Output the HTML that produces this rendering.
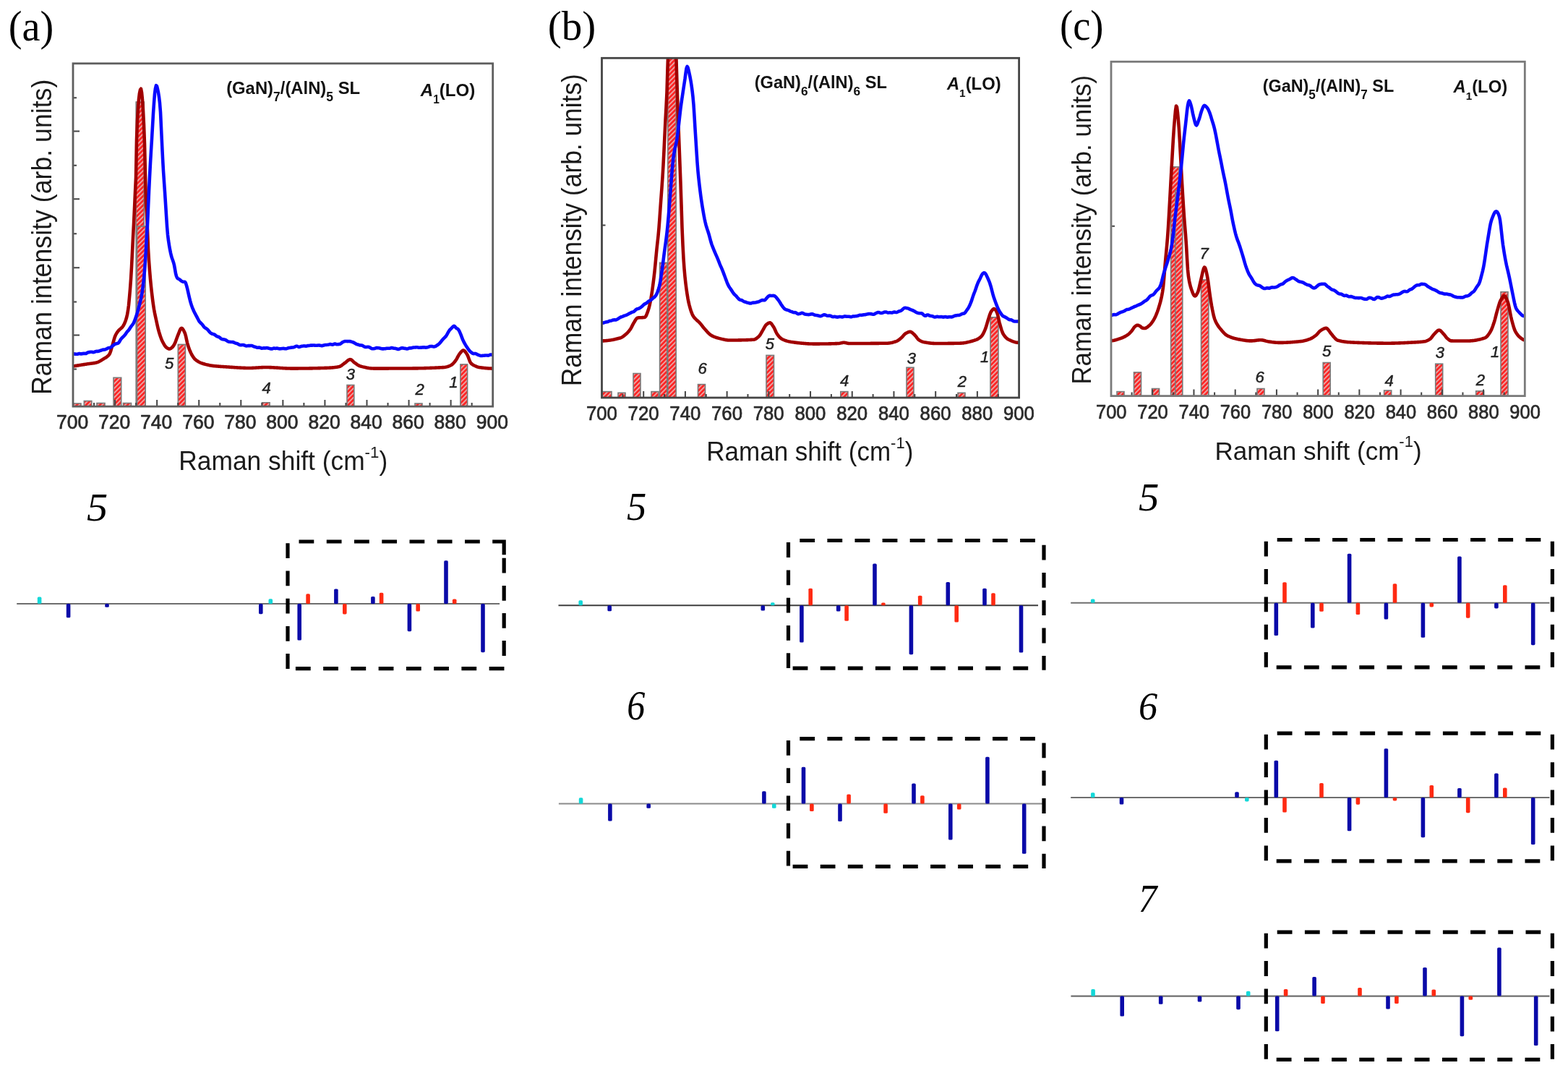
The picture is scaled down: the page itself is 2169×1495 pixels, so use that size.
<!DOCTYPE html>
<html><head><meta charset="utf-8"><title>Raman spectra of GaN/AlN superlattices</title>
<style>html,body{margin:0;padding:0;background:#fff;width:2169px;height:1495px;overflow:hidden}svg{display:block}</style></head><body>
<svg width="2169" height="1495" viewBox="0 0 2169 1495">
<defs>
<pattern id="hatch" patternUnits="userSpaceOnUse" width="4.5" height="4.5" patternTransform="rotate(-45)"><rect width="4.5" height="4.5" fill="#ff2222"/><rect x="0" y="0" width="4.5" height="1.9" fill="#eaa2a2"/></pattern>
<clipPath id="clipa"><rect x="101" y="87.8" width="580.7" height="474.3"/></clipPath>
<clipPath id="clipb"><rect x="832.5" y="80.3" width="577.1" height="469.7"/></clipPath>
<clipPath id="clipc"><rect x="1537" y="85.3" width="572.3" height="462.3"/></clipPath>
</defs>
<rect width="2169" height="1495" fill="#fff"/>
<text transform="matrix(0.94 0 0 0.99 11.67 55.66)" font-family="'Liberation Serif', 'Times New Roman', serif" font-size="60" fill="#000">(a)</text>
<g clip-path="url(#clipa)">
<rect x="101" y="558" width="11" height="6.1" fill="url(#hatch)" stroke="#7a7a7a" stroke-width="1.6"/>
<rect x="116.3" y="554.5" width="10.5" height="9.6" fill="url(#hatch)" stroke="#7a7a7a" stroke-width="1.6"/>
<rect x="134" y="557.5" width="11" height="6.6" fill="url(#hatch)" stroke="#7a7a7a" stroke-width="1.6"/>
<rect x="157" y="522.3" width="10.7" height="41.8" fill="url(#hatch)" stroke="#7a7a7a" stroke-width="1.6"/>
<rect x="170.5" y="557.5" width="11" height="6.6" fill="url(#hatch)" stroke="#7a7a7a" stroke-width="1.6"/>
<rect x="188.2" y="141" width="11.1" height="423.1" fill="url(#hatch)" stroke="#7a7a7a" stroke-width="1.6"/>
<rect x="189.5" y="313" width="11.7" height="251.1" fill="url(#hatch)" stroke="#7a7a7a" stroke-width="1.6"/>
<rect x="246.3" y="476.4" width="10.1" height="87.7" fill="url(#hatch)" stroke="#7a7a7a" stroke-width="1.6"/>
<rect x="362.6" y="556.8" width="10.5" height="7.3" fill="url(#hatch)" stroke="#7a7a7a" stroke-width="1.6"/>
<rect x="480" y="532.5" width="9.8" height="31.6" fill="url(#hatch)" stroke="#7a7a7a" stroke-width="1.6"/>
<rect x="574" y="558" width="10" height="6.1" fill="url(#hatch)" stroke="#7a7a7a" stroke-width="1.6"/>
<rect x="636.9" y="503.9" width="9.7" height="60.2" fill="url(#hatch)" stroke="#7a7a7a" stroke-width="1.6"/>
<path d="M101 506.5 L102 506.34 L103 506.18 L104 506.02 L105 505.86 L106 505.71 L107 505.55 L108 505.39 L109 505.23 L110 505.07 L111 504.91 L112 504.76 L113 504.6 L114 504.44 L115 504.28 L116 504.13 L117 503.97 L118 503.81 L119 503.66 L120 503.5 L121 503.35 L122 503.21 L123 503.08 L124 502.95 L125 502.83 L126 502.7 L127 502.57 L128 502.43 L129 502.28 L130 502.12 L131 501.94 L132 501.74 L133 501.52 L134 501.27 L135 500.93 L136 500.53 L137 500.06 L138 499.54 L139 498.97 L140 498.37 L141 497.76 L142 497.13 L143 496.5 L144 495.9 L145 495.31 L146 494.72 L147 494.08 L148 493.36 L149 492.52 L150 491.55 L151 490.39 L152 488.74 L153 486.01 L154 482.66 L155 479.2 L156 475.89 L157 472.22 L158 468.58 L159 465.48 L160 463.24 L161 461.39 L162 459.81 L163 458.42 L164 457.19 L165 456.17 L166 455.3 L167 454.48 L168 453.61 L169 452.59 L170 451.34 L171 449.76 L172 447.8 L173 445.45 L174 442.68 L175 439.47 L176 435.22 L177 429.69 L178 422.22 L179 411.59 L180 399.86 L181 386.41 L182 369.55 L183 349.48 L184 328.8 L185 309.87 L186 288.69 L187 266.01 L188 245.6 L189 192.86 L190 166.9 L191 150.01 L192 136.96 L193 128.88 L194 124.13 L195 122.79 L196 127.84 L197 137.94 L198 153.63 L199 172.31 L200 199.04 L201 241.59 L202 280 L203 296.58 L204 318.16 L205 343.97 L206 360.7 L207 374.23 L208 386.01 L209 396.24 L210 405.29 L211 413.62 L212 421.21 L213 427.69 L214 433.02 L215 437.74 L216 442.37 L217 447.07 L218 451.59 L219 455.72 L220 459.25 L221 462.5 L222 465.52 L223 468.27 L224 470.71 L225 472.79 L226 474.68 L227 476.44 L228 478.02 L229 479.34 L230 480.36 L231 481.11 L232 481.79 L233 482.31 L234 482.58 L235 482.49 L236 482.02 L237 481.3 L238 480.5 L239 479.5 L240 478.17 L241 476.6 L242 474.59 L243 472.07 L244 469.28 L245 466.47 L246 463.89 L247 461.51 L248 458.86 L249 456.37 L250 454.52 L251 453.8 L252 454.22 L253 455.36 L254 457.03 L255 459.02 L256 461.24 L257 464.86 L258 469.47 L259 474.01 L260 477.53 L261 480.52 L262 483.28 L263 485.8 L264 488.05 L265 490 L266 491.74 L267 493.34 L268 494.78 L269 496.01 L270 497 L271 497.83 L272 498.59 L273 499.29 L274 499.93 L275 500.51 L276 501.04 L277 501.51 L278 501.93 L279 502.3 L280 502.64 L281 502.96 L282 503.27 L283 503.57 L284 503.85 L285 504.12 L286 504.37 L287 504.61 L288 504.84 L289 505.05 L290 505.24 L291 505.42 L292 505.59 L293 505.74 L294 505.88 L295 506 L296 506.11 L297 506.22 L298 506.31 L299 506.41 L300 506.49 L301 506.58 L302 506.65 L303 506.73 L304 506.8 L305 506.86 L306 506.93 L307 506.99 L308 507.05 L309 507.12 L310 507.18 L311 507.24 L312 507.3 L313 507.36 L314 507.43 L315 507.5 L316 507.56 L317 507.63 L318 507.7 L319 507.77 L320 507.84 L321 507.91 L322 507.98 L323 508.05 L324 508.12 L325 508.18 L326 508.25 L327 508.31 L328 508.38 L329 508.44 L330 508.5 L331 508.56 L332 508.61 L333 508.66 L334 508.71 L335 508.76 L336 508.8 L337 508.84 L338 508.88 L339 508.91 L340 508.94 L341 508.96 L342 508.98 L343 508.99 L344 509 L345 509 L346 508.99 L347 508.98 L348 508.95 L349 508.92 L350 508.87 L351 508.82 L352 508.77 L353 508.71 L354 508.65 L355 508.58 L356 508.51 L357 508.45 L358 508.38 L359 508.32 L360 508.26 L361 508.2 L362 508.15 L363 508.1 L364 508.06 L365 508.03 L366 508.01 L367 508 L368 508 L369 508.01 L370 508.02 L371 508.04 L372 508.07 L373 508.1 L374 508.13 L375 508.17 L376 508.22 L377 508.27 L378 508.32 L379 508.37 L380 508.43 L381 508.49 L382 508.55 L383 508.61 L384 508.67 L385 508.74 L386 508.8 L387 508.87 L388 508.93 L389 509 L390 509.06 L391 509.12 L392 509.18 L393 509.23 L394 509.29 L395 509.34 L396 509.39 L397 509.43 L398 509.47 L399 509.5 L400 509.54 L401 509.56 L402 509.58 L403 509.59 L404 509.6 L405 509.6 L406 509.6 L407 509.6 L408 509.6 L409 509.59 L410 509.59 L411 509.59 L412 509.58 L413 509.57 L414 509.57 L415 509.56 L416 509.55 L417 509.55 L418 509.54 L419 509.53 L420 509.52 L421 509.51 L422 509.49 L423 509.48 L424 509.47 L425 509.45 L426 509.44 L427 509.43 L428 509.41 L429 509.39 L430 509.38 L431 509.36 L432 509.34 L433 509.32 L434 509.3 L435 509.28 L436 509.26 L437 509.24 L438 509.21 L439 509.19 L440 509.17 L441 509.14 L442 509.12 L443 509.09 L444 509.07 L445 509.04 L446 509.01 L447 508.98 L448 508.95 L449 508.92 L450 508.89 L451 508.86 L452 508.83 L453 508.8 L454 508.76 L455 508.72 L456 508.67 L457 508.61 L458 508.54 L459 508.47 L460 508.38 L461 508.29 L462 508.18 L463 508.07 L464 507.94 L465 507.8 L466 507.65 L467 507.49 L468 507.31 L469 507.12 L470 506.84 L471 506.37 L472 505.75 L473 505.04 L474 504.26 L475 503.47 L476 502.7 L477 502 L478 501.27 L479 500.42 L480 499.54 L481 498.7 L482 497.97 L483 497.42 L484 497.13 L485 497.18 L486 497.63 L487 498.37 L488 499.29 L489 500.27 L490 501.22 L491 502 L492 502.69 L493 503.4 L494 504.11 L495 504.78 L496 505.38 L497 505.89 L498 506.27 L499 506.56 L500 506.84 L501 507.11 L502 507.37 L503 507.62 L504 507.86 L505 508.09 L506 508.3 L507 508.5 L508 508.69 L509 508.86 L510 509.02 L511 509.16 L512 509.28 L513 509.38 L514 509.47 L515 509.53 L516 509.57 L517 509.6 L518 509.6 L519 509.6 L520 509.6 L521 509.6 L522 509.6 L523 509.6 L524 509.6 L525 509.6 L526 509.6 L527 509.59 L528 509.59 L529 509.59 L530 509.59 L531 509.59 L532 509.59 L533 509.58 L534 509.58 L535 509.58 L536 509.58 L537 509.58 L538 509.57 L539 509.57 L540 509.57 L541 509.57 L542 509.56 L543 509.56 L544 509.56 L545 509.55 L546 509.55 L547 509.55 L548 509.55 L549 509.54 L550 509.54 L551 509.53 L552 509.53 L553 509.53 L554 509.52 L555 509.52 L556 509.52 L557 509.51 L558 509.51 L559 509.5 L560 509.5 L561 509.5 L562 509.49 L563 509.49 L564 509.48 L565 509.47 L566 509.47 L567 509.46 L568 509.45 L569 509.44 L570 509.43 L571 509.42 L572 509.41 L573 509.4 L574 509.39 L575 509.38 L576 509.36 L577 509.35 L578 509.33 L579 509.32 L580 509.3 L581 509.28 L582 509.26 L583 509.24 L584 509.22 L585 509.2 L586 509.18 L587 509.15 L588 509.13 L589 509.1 L590 509.07 L591 509.05 L592 509.02 L593 508.99 L594 508.95 L595 508.92 L596 508.89 L597 508.85 L598 508.81 L599 508.77 L600 508.73 L601 508.69 L602 508.65 L603 508.61 L604 508.56 L605 508.51 L606 508.46 L607 508.41 L608 508.36 L609 508.31 L610 508.25 L611 508.2 L612 508.14 L613 508.08 L614 508.02 L615 507.94 L616 507.8 L617 507.61 L618 507.36 L619 507.07 L620 506.73 L621 506.35 L622 505.93 L623 505.48 L624 505 L625 504.39 L626 503.56 L627 502.57 L628 501.45 L629 500.24 L630 499 L631 497.55 L632 495.81 L633 493.93 L634 492.07 L635 490.37 L636 489 L637 487.79 L638 486.58 L639 485.53 L640 484.78 L641 484.5 L642 484.84 L643 485.73 L644 487 L645 488.48 L646 490 L647 491.93 L648 494.5 L649 497.28 L650 499.86 L651 501.8 L652 502.88 L653 503.72 L654 504.42 L655 505.01 L656 505.53 L657 506 L658 506.45 L659 506.88 L660 507.27 L661 507.61 L662 507.87 L663 508.05 L664 508.19 L665 508.34 L666 508.47 L667 508.6 L668 508.72 L669 508.84 L670 508.95 L671 509.05 L672 509.14 L673 509.23 L674 509.31 L675 509.38 L676 509.44 L677 509.49 L678 509.53 L679 509.56 L680 509.59 L681 509.6 L681.7 509.6" fill="none" stroke="#a00000" stroke-width="4.6" stroke-linejoin="round" stroke-linecap="round"/>
<path d="M101 489.54 L102 489.4 L103 489.46 L104 489.61 L105 489.77 L106 489.82 L107 489.71 L108 489.44 L109 489.15 L110 489.06 L111 489.23 L112 489.38 L113 489.33 L114 489.13 L115 488.93 L116 488.86 L117 488.92 L118 489.02 L119 488.88 L120 488.37 L121 487.72 L122 487.31 L123 487.14 L124 486.99 L125 486.79 L126 486.69 L127 486.75 L128 486.96 L129 487.13 L130 487.04 L131 486.65 L132 486.21 L133 485.91 L134 485.79 L135 485.84 L136 485.85 L137 485.57 L138 485.14 L139 484.78 L140 484.49 L141 484.1 L142 483.76 L143 483.63 L144 483.6 L145 483.45 L146 483.15 L147 482.71 L148 482.16 L149 481.6 L150 481.21 L151 481.02 L152 480.92 L153 480.64 L154 479.95 L155 479 L156 478.07 L157 477.33 L158 476.66 L159 476.04 L160 475.53 L161 475.21 L162 475 L163 474.76 L164 474.19 L165 472.86 L166 471.06 L167 469.34 L168 468.05 L169 467.04 L170 466.1 L171 465.13 L172 464.09 L173 462.97 L174 461.57 L175 460.02 L176 458.68 L177 457.67 L178 456.61 L179 455.2 L180 453.57 L181 452.02 L182 450.65 L183 449.42 L184 448.06 L185 446.31 L186 444.04 L187 441.34 L188 438.51 L189 435.52 L190 432.31 L191 428.74 L192 424.97 L193 421.21 L194 417.3 L195 412.9 L196 407.78 L197 401.65 L198 394.16 L199 385.26 L200 374.52 L201 360.68 L202 344.22 L203 326.61 L204 311.22 L205 287.93 L206 265.28 L207 244.7 L208 225.73 L209 208.7 L210 192.31 L211 174.83 L212 157.18 L213 142.39 L214 129.52 L215 122.18 L216 118.13 L217 119.1 L218 123.11 L219 127.81 L220 134.13 L221 142.59 L222 155.06 L223 176.49 L224 197.74 L225 218.39 L226 236.37 L227 251.38 L228 265.76 L229 281.27 L230 297.27 L231 312.97 L232 324.69 L233 332.71 L234 339.1 L235 344.8 L236 349.82 L237 354.04 L238 357.3 L239 360.01 L240 362.96 L241 366.74 L242 372.27 L243 378.21 L244 381.88 L245 384.17 L246 385.34 L247 385.61 L248 386.21 L249 387.04 L250 387.87 L251 388.58 L252 389.24 L253 389.68 L254 389.78 L255 389.71 L256 389.94 L257 391.74 L258 394.86 L259 398.57 L260 403.07 L261 407.5 L262 411.68 L263 415.79 L264 419.41 L265 422.55 L266 425.26 L267 427.71 L268 430.02 L269 432.11 L270 433.95 L271 435.77 L272 437.67 L273 439.59 L274 441.52 L275 443.39 L276 444.94 L277 446.07 L278 446.97 L279 447.91 L280 449.07 L281 450.46 L282 451.83 L283 452.88 L284 453.57 L285 454.16 L286 454.84 L287 455.68 L288 456.74 L289 457.98 L290 459.2 L291 460.25 L292 461.01 L293 461.53 L294 461.88 L295 462.11 L296 462.38 L297 462.9 L298 463.68 L299 464.52 L300 465.15 L301 465.5 L302 465.74 L303 466.13 L304 466.82 L305 467.71 L306 468.53 L307 469.05 L308 469.26 L309 469.34 L310 469.44 L311 469.65 L312 470.06 L313 470.7 L314 471.42 L315 472.04 L316 472.45 L317 472.66 L318 472.79 L319 472.93 L320 473.03 L321 473.05 L322 473.09 L323 473.34 L324 473.81 L325 474.32 L326 474.66 L327 474.86 L328 475.13 L329 475.63 L330 476.25 L331 476.78 L332 477.14 L333 477.24 L334 477.12 L335 476.95 L336 476.95 L337 477.13 L338 477.47 L339 477.91 L340 478.3 L341 478.43 L342 478.32 L343 478.16 L344 478.07 L345 478.08 L346 478.11 L347 478.06 L348 478 L349 478.19 L350 478.71 L351 479.25 L352 479.55 L353 479.76 L354 480.08 L355 480.47 L356 480.72 L357 480.73 L358 480.58 L359 480.57 L360 480.89 L361 481.39 L362 481.68 L363 481.61 L364 481.41 L365 481.33 L366 481.39 L367 481.38 L368 481.21 L369 481.07 L370 481.17 L371 481.46 L372 481.73 L373 481.92 L374 482.16 L375 482.42 L376 482.48 L377 482.18 L378 481.77 L379 481.62 L380 481.75 L381 481.85 L382 481.73 L383 481.61 L384 481.74 L385 482.07 L386 482.32 L387 482.36 L388 482.28 L389 482.18 L390 482.06 L391 481.94 L392 481.89 L393 481.99 L394 482.19 L395 482.33 L396 482.22 L397 481.91 L398 481.56 L399 481.27 L400 481.06 L401 480.92 L402 480.79 L403 480.65 L404 480.56 L405 480.48 L406 480.3 L407 479.98 L408 479.55 L409 479.04 L410 478.68 L411 478.76 L412 479.24 L413 479.73 L414 479.87 L415 479.59 L416 479.16 L417 478.86 L418 478.72 L419 478.59 L420 478.43 L421 478.41 L422 478.59 L423 478.77 L424 478.66 L425 478.35 L426 478.1 L427 478 L428 477.92 L429 477.78 L430 477.64 L431 477.62 L432 477.65 L433 477.58 L434 477.52 L435 477.59 L436 477.72 L437 477.81 L438 477.82 L439 477.69 L440 477.49 L441 477.44 L442 477.61 L443 477.82 L444 478 L445 478.13 L446 478.08 L447 477.8 L448 477.44 L449 477.17 L450 477.05 L451 477.01 L452 476.94 L453 476.82 L454 476.65 L455 476.41 L456 476.13 L457 476.04 L458 476.21 L459 476.53 L460 476.66 L461 476.39 L462 475.88 L463 475.54 L464 475.64 L465 476.01 L466 476.29 L467 476.28 L468 476.09 L469 475.98 L470 475.9 L471 475.53 L472 474.78 L473 473.91 L474 473.19 L475 472.69 L476 472.36 L477 472.09 L478 471.94 L479 471.96 L480 472.07 L481 472.09 L482 472.06 L483 472.02 L484 472.08 L485 472.3 L486 472.59 L487 472.88 L488 473.2 L489 473.61 L490 474.14 L491 474.77 L492 475.39 L493 475.88 L494 476.24 L495 476.5 L496 476.81 L497 477.17 L498 477.42 L499 477.46 L500 477.51 L501 477.77 L502 478.27 L503 478.9 L504 479.47 L505 479.88 L506 480.03 L507 479.91 L508 479.72 L509 479.69 L510 479.86 L511 480.19 L512 480.74 L513 481.43 L514 481.96 L515 482.18 L516 482.2 L517 482.19 L518 482.07 L519 481.75 L520 481.33 L521 481.08 L522 481.1 L523 481.21 L524 481.31 L525 481.45 L526 481.71 L527 482.02 L528 482.24 L529 482.35 L530 482.37 L531 482.33 L532 482.26 L533 482.14 L534 481.97 L535 481.8 L536 481.73 L537 481.77 L538 481.82 L539 481.73 L540 481.45 L541 481.14 L542 481 L543 481.22 L544 481.55 L545 481.7 L546 481.75 L547 481.89 L548 482.13 L549 482.48 L550 482.87 L551 483.01 L552 482.74 L553 482.28 L554 481.87 L555 481.48 L556 481.23 L557 481.29 L558 481.6 L559 481.82 L560 481.85 L561 481.96 L562 482.27 L563 482.48 L564 482.3 L565 481.85 L566 481.52 L567 481.39 L568 481.38 L569 481.34 L570 481.11 L571 480.74 L572 480.52 L573 480.5 L574 480.52 L575 480.4 L576 480.3 L577 480.31 L578 480.47 L579 480.65 L580 480.75 L581 480.72 L582 480.66 L583 480.59 L584 480.49 L585 480.36 L586 480.32 L587 480.39 L588 480.54 L589 480.61 L590 480.54 L591 480.37 L592 480.1 L593 479.73 L594 479.33 L595 479.06 L596 478.93 L597 478.91 L598 479.03 L599 479.25 L600 479.43 L601 479.41 L602 479.11 L603 478.61 L604 477.96 L605 477.25 L606 476.53 L607 475.82 L608 474.91 L609 473.81 L610 472.55 L611 471.23 L612 470.01 L613 468.96 L614 467.97 L615 466.98 L616 465.92 L617 464.72 L618 463.23 L619 461.39 L620 459.51 L621 457.84 L622 456.46 L623 455.42 L624 454.5 L625 453.46 L626 452.32 L627 451.31 L628 450.88 L629 451.36 L630 452.5 L631 453.63 L632 454.3 L633 454.82 L634 455.73 L635 457.26 L636 459.33 L637 461.61 L638 464.16 L639 466.87 L640 469.44 L641 471.67 L642 473.57 L643 475.39 L644 477.1 L645 478.71 L646 480.24 L647 481.71 L648 483.18 L649 484.55 L650 485.75 L651 486.65 L652 487.36 L653 488.15 L654 488.85 L655 489.16 L656 489.07 L657 488.91 L658 489.05 L659 489.52 L660 490.12 L661 490.61 L662 490.96 L663 491.33 L664 491.71 L665 491.94 L666 492 L667 491.9 L668 491.76 L669 491.67 L670 491.6 L671 491.49 L672 491.43 L673 491.48 L674 491.57 L675 491.61 L676 491.46 L677 491.05 L678 490.61 L679 490.45 L680 490.57 L681 490.81 L681.7 491.05" fill="none" stroke="#0a0aff" stroke-width="4.6" stroke-linejoin="round" stroke-linecap="round"/>
</g>
<path d="M130.03 562.1 V557.1 M159.07 562.1 V553.1 M188.11 562.1 V557.1 M217.14 562.1 V553.1 M246.18 562.1 V557.1 M275.21 562.1 V553.1 M304.25 562.1 V557.1 M333.28 562.1 V553.1 M362.31 562.1 V557.1 M391.35 562.1 V553.1 M420.39 562.1 V557.1 M449.42 562.1 V553.1 M478.46 562.1 V557.1 M507.49 562.1 V553.1 M536.53 562.1 V557.1 M565.56 562.1 V553.1 M594.6 562.1 V557.1 M623.63 562.1 V553.1 M652.67 562.1 V557.1 M101 181.5 H110 M101 275.3 H110 M101 370.2 H110 M101 463.5 H110 M101 135.2 H106 M101 228.8 H106 M101 323.3 H106 M101 417.5 H106 M101 510.6 H106" stroke="#444" stroke-width="2" fill="none"/>
<rect x="101" y="87.8" width="580.7" height="474.3" fill="none" stroke="#5e5e5e" stroke-width="2.8"/>
<text font-family="'Liberation Sans', Arial, Helvetica, sans-serif" font-size="26" stroke="#2b2b2b" stroke-width="0.7" stroke-linejoin="round" fill="#2b2b2b" transform="matrix(1.02 0 0 1.03 77.98 593.4)">700</text>
<text font-family="'Liberation Sans', Arial, Helvetica, sans-serif" font-size="26" stroke="#2b2b2b" stroke-width="0.7" stroke-linejoin="round" fill="#2b2b2b" transform="matrix(1.02 0 0 1.03 136.05 593.4)">720</text>
<text font-family="'Liberation Sans', Arial, Helvetica, sans-serif" font-size="26" stroke="#2b2b2b" stroke-width="0.7" stroke-linejoin="round" fill="#2b2b2b" transform="matrix(1.02 0 0 1.03 194.12 593.4)">740</text>
<text font-family="'Liberation Sans', Arial, Helvetica, sans-serif" font-size="26" stroke="#2b2b2b" stroke-width="0.7" stroke-linejoin="round" fill="#2b2b2b" transform="matrix(1.02 0 0 1.03 252.19 593.4)">760</text>
<text font-family="'Liberation Sans', Arial, Helvetica, sans-serif" font-size="26" stroke="#2b2b2b" stroke-width="0.7" stroke-linejoin="round" fill="#2b2b2b" transform="matrix(1.02 0 0 1.03 310.26 593.4)">780</text>
<text font-family="'Liberation Sans', Arial, Helvetica, sans-serif" font-size="26" stroke="#2b2b2b" stroke-width="0.7" stroke-linejoin="round" fill="#2b2b2b" transform="matrix(1.02 0 0 1.03 368.33 593.4)">800</text>
<text font-family="'Liberation Sans', Arial, Helvetica, sans-serif" font-size="26" stroke="#2b2b2b" stroke-width="0.7" stroke-linejoin="round" fill="#2b2b2b" transform="matrix(1.02 0 0 1.03 426.4 593.4)">820</text>
<text font-family="'Liberation Sans', Arial, Helvetica, sans-serif" font-size="26" stroke="#2b2b2b" stroke-width="0.7" stroke-linejoin="round" fill="#2b2b2b" transform="matrix(1.02 0 0 1.03 484.47 593.4)">840</text>
<text font-family="'Liberation Sans', Arial, Helvetica, sans-serif" font-size="26" stroke="#2b2b2b" stroke-width="0.7" stroke-linejoin="round" fill="#2b2b2b" transform="matrix(1.02 0 0 1.03 542.54 593.4)">860</text>
<text font-family="'Liberation Sans', Arial, Helvetica, sans-serif" font-size="26" stroke="#2b2b2b" stroke-width="0.7" stroke-linejoin="round" fill="#2b2b2b" transform="matrix(1.02 0 0 1.03 600.61 593.4)">880</text>
<text font-family="'Liberation Sans', Arial, Helvetica, sans-serif" font-size="26" stroke="#2b2b2b" stroke-width="0.7" stroke-linejoin="round" fill="#2b2b2b" transform="matrix(1.02 0 0 1.03 658.68 593.4)">900</text>
<text transform="matrix(1.04 0 0 1.06 247.29 650.1)" font-family="'Liberation Sans', Arial, Helvetica, sans-serif" font-size="34" fill="#1a1a1a">Raman shift (cm<tspan font-size="21.4" dy="-16.6">-1</tspan><tspan dy="16.6">)</tspan></text>
<text transform="matrix(0 -1.02 1.09 0 71.3 546.06)" font-family="'Liberation Sans', Arial, Helvetica, sans-serif" font-size="35" fill="#1a1a1a">Raman intensity (arb. units)</text>
<text transform="matrix(1.06 0 0 1.08 313.14 130)" font-family="'Liberation Sans', Arial, Helvetica, sans-serif" font-size="22.5" font-weight="bold" fill="#111">(GaN)<tspan font-size="16.5" dy="9.6">7</tspan><tspan dy="-9.6">/(AlN)</tspan><tspan font-size="16.5" dy="9.6">5</tspan><tspan dy="-9.6"> SL</tspan></text>
<text transform="matrix(1.07 0 0 1.09 581.8 132.5)" font-family="'Liberation Sans', Arial, Helvetica, sans-serif" font-size="22.5" font-weight="bold" fill="#111"><tspan font-style="italic">A</tspan><tspan font-size="14.5" dy="9.2">1</tspan><tspan dy="-9.2">(LO)</tspan></text>
<text transform="matrix(0.95 0 0 0.95 757.86 55.1)" font-family="'Liberation Serif', 'Times New Roman', serif" font-size="60" fill="#000">(b)</text>
<g clip-path="url(#clipb)">
<rect x="833" y="541.6" width="13" height="10.4" fill="url(#hatch)" stroke="#7a7a7a" stroke-width="1.6"/>
<rect x="855" y="543.3" width="10" height="8.7" fill="url(#hatch)" stroke="#7a7a7a" stroke-width="1.6"/>
<rect x="876" y="516.5" width="10" height="35.5" fill="url(#hatch)" stroke="#7a7a7a" stroke-width="1.6"/>
<rect x="901" y="541.6" width="10" height="10.4" fill="url(#hatch)" stroke="#7a7a7a" stroke-width="1.6"/>
<rect x="912.6" y="363.3" width="10.2" height="188.7" fill="url(#hatch)" stroke="#7a7a7a" stroke-width="1.6"/>
<rect x="923.8" y="70" width="11.4" height="482" fill="url(#hatch)" stroke="#7a7a7a" stroke-width="1.6"/>
<rect x="965.5" y="531.6" width="10" height="20.4" fill="url(#hatch)" stroke="#7a7a7a" stroke-width="1.6"/>
<rect x="1060" y="491.4" width="10.5" height="60.6" fill="url(#hatch)" stroke="#7a7a7a" stroke-width="1.6"/>
<rect x="1162.8" y="541.6" width="10.1" height="10.4" fill="url(#hatch)" stroke="#7a7a7a" stroke-width="1.6"/>
<rect x="1254" y="508.2" width="10" height="43.8" fill="url(#hatch)" stroke="#7a7a7a" stroke-width="1.6"/>
<rect x="1325" y="543.3" width="10" height="8.7" fill="url(#hatch)" stroke="#7a7a7a" stroke-width="1.6"/>
<rect x="1370" y="438.8" width="11" height="113.2" fill="url(#hatch)" stroke="#7a7a7a" stroke-width="1.6"/>
<path d="M832.5 471.4 L833.5 471.39 L834.5 471.37 L835.5 471.33 L836.5 471.28 L837.5 471.22 L838.5 471.14 L839.5 471.05 L840.5 470.95 L841.5 470.83 L842.5 470.71 L843.5 470.56 L844.5 470.41 L845.5 470.25 L846.5 470.07 L847.5 469.89 L848.5 469.69 L849.5 469.48 L850.5 469.26 L851.5 469.03 L852.5 468.79 L853.5 468.55 L854.5 468.29 L855.5 468.02 L856.5 467.75 L857.5 467.46 L858.5 467.17 L859.5 466.78 L860.5 466.26 L861.5 465.63 L862.5 464.91 L863.5 464.12 L864.5 463.29 L865.5 462.43 L866.5 461.56 L867.5 460.61 L868.5 459.58 L869.5 458.45 L870.5 457.23 L871.5 455.91 L872.5 454.42 L873.5 452.61 L874.5 450.63 L875.5 448.64 L876.5 446.81 L877.5 445.21 L878.5 443.52 L879.5 441.89 L880.5 440.55 L881.5 439.73 L882.5 439.51 L883.5 439.39 L884.5 439.31 L885.5 439.26 L886.5 439.22 L887.5 439.18 L888.5 439.14 L889.5 439.08 L890.5 438.99 L891.5 438.86 L892.5 438.49 L893.5 437.15 L894.5 435.03 L895.5 432.38 L896.5 429.47 L897.5 426.41 L898.5 422.5 L899.5 417.83 L900.5 412.61 L901.5 406.62 L902.5 399.79 L903.5 392.26 L904.5 384.19 L905.5 375.52 L906.5 365.45 L907.5 354.74 L908.5 344.38 L909.5 335.2 L910.5 326.18 L911.5 315.29 L912.5 301.78 L913.5 287.17 L914.5 273.12 L915.5 259.6 L916.5 245.2 L917.5 228.34 L918.5 208.34 L919.5 186.99 L920.5 166.37 L921.5 148.24 L922.5 127.78 L923.5 94.08 L924.5 65.58 L925.5 46.11 L926.5 35.5 L927.5 27.61 L928.5 22.08 L929.5 20 L930.5 22.17 L931.5 27.82 L932.5 35.66 L933.5 45.41 L934.5 61.47 L935.5 82.82 L936.5 116.37 L937.5 148.48 L938.5 175.2 L939.5 201.14 L940.5 227.46 L941.5 253.94 L942.5 283.06 L943.5 314.8 L944.5 338.29 L945.5 357.37 L946.5 371.58 L947.5 382.84 L948.5 391.98 L949.5 399.72 L950.5 406.66 L951.5 412.74 L952.5 417.84 L953.5 421.98 L954.5 425.68 L955.5 429.01 L956.5 431.94 L957.5 434.44 L958.5 436.48 L959.5 438.08 L960.5 439.38 L961.5 440.49 L962.5 441.5 L963.5 442.48 L964.5 443.35 L965.5 444.16 L966.5 445.02 L967.5 446.02 L968.5 447.15 L969.5 448.38 L970.5 449.67 L971.5 450.96 L972.5 452.23 L973.5 453.44 L974.5 454.55 L975.5 455.68 L976.5 456.83 L977.5 457.97 L978.5 459.09 L979.5 460.16 L980.5 461.16 L981.5 462.07 L982.5 462.88 L983.5 463.57 L984.5 464.12 L985.5 464.64 L986.5 465.11 L987.5 465.55 L988.5 465.96 L989.5 466.34 L990.5 466.7 L991.5 467.02 L992.5 467.33 L993.5 467.61 L994.5 467.87 L995.5 468.12 L996.5 468.37 L997.5 468.63 L998.5 468.88 L999.5 469.12 L1000.5 469.35 L1001.5 469.58 L1002.5 469.78 L1003.5 469.97 L1004.5 470.13 L1005.5 470.27 L1006.5 470.38 L1007.5 470.46 L1008.5 470.49 L1009.5 470.5 L1010.5 470.5 L1011.5 470.5 L1012.5 470.49 L1013.5 470.49 L1014.5 470.49 L1015.5 470.48 L1016.5 470.47 L1017.5 470.46 L1018.5 470.45 L1019.5 470.44 L1020.5 470.43 L1021.5 470.42 L1022.5 470.4 L1023.5 470.38 L1024.5 470.36 L1025.5 470.34 L1026.5 470.32 L1027.5 470.3 L1028.5 470.27 L1029.5 470.24 L1030.5 470.21 L1031.5 470.18 L1032.5 470.15 L1033.5 470.11 L1034.5 470.08 L1035.5 470.04 L1036.5 469.99 L1037.5 469.95 L1038.5 469.9 L1039.5 469.86 L1040.5 469.8 L1041.5 469.75 L1042.5 469.69 L1043.5 469.51 L1044.5 469.15 L1045.5 468.62 L1046.5 467.96 L1047.5 467.2 L1048.5 466.35 L1049.5 465.46 L1050.5 464.48 L1051.5 463.1 L1052.5 461.42 L1053.5 459.61 L1054.5 457.83 L1055.5 456.16 L1056.5 454.35 L1057.5 452.5 L1058.5 450.82 L1059.5 449.48 L1060.5 448.6 L1061.5 447.82 L1062.5 447.15 L1063.5 446.63 L1064.5 446.34 L1065.5 446.39 L1066.5 447.07 L1067.5 448.24 L1068.5 449.7 L1069.5 451.25 L1070.5 452.81 L1071.5 454.79 L1072.5 457.04 L1073.5 459.28 L1074.5 461.23 L1075.5 462.68 L1076.5 464 L1077.5 465.23 L1078.5 466.34 L1079.5 467.33 L1080.5 468.15 L1081.5 468.79 L1082.5 469.29 L1083.5 469.75 L1084.5 470.18 L1085.5 470.58 L1086.5 470.95 L1087.5 471.29 L1088.5 471.6 L1089.5 471.88 L1090.5 472.14 L1091.5 472.37 L1092.5 472.58 L1093.5 472.77 L1094.5 472.93 L1095.5 473.07 L1096.5 473.21 L1097.5 473.34 L1098.5 473.47 L1099.5 473.6 L1100.5 473.73 L1101.5 473.86 L1102.5 473.98 L1103.5 474.09 L1104.5 474.21 L1105.5 474.32 L1106.5 474.43 L1107.5 474.53 L1108.5 474.63 L1109.5 474.72 L1110.5 474.82 L1111.5 474.9 L1112.5 474.98 L1113.5 475.06 L1114.5 475.14 L1115.5 475.2 L1116.5 475.27 L1117.5 475.33 L1118.5 475.38 L1119.5 475.43 L1120.5 475.47 L1121.5 475.51 L1122.5 475.54 L1123.5 475.56 L1124.5 475.58 L1125.5 475.59 L1126.5 475.6 L1127.5 475.6 L1128.5 475.6 L1129.5 475.6 L1130.5 475.59 L1131.5 475.59 L1132.5 475.59 L1133.5 475.58 L1134.5 475.57 L1135.5 475.57 L1136.5 475.56 L1137.5 475.55 L1138.5 475.54 L1139.5 475.52 L1140.5 475.51 L1141.5 475.5 L1142.5 475.48 L1143.5 475.46 L1144.5 475.45 L1145.5 475.43 L1146.5 475.41 L1147.5 475.39 L1148.5 475.36 L1149.5 475.34 L1150.5 475.31 L1151.5 475.29 L1152.5 475.26 L1153.5 475.23 L1154.5 475.2 L1155.5 475.16 L1156.5 475.13 L1157.5 475.09 L1158.5 475.06 L1159.5 475.02 L1160.5 474.97 L1161.5 474.82 L1162.5 474.61 L1163.5 474.37 L1164.5 474.13 L1165.5 473.93 L1166.5 473.82 L1167.5 473.81 L1168.5 473.91 L1169.5 474.08 L1170.5 474.29 L1171.5 474.51 L1172.5 474.72 L1173.5 474.89 L1174.5 474.99 L1175.5 475 L1176.5 475 L1177.5 475 L1178.5 475 L1179.5 475 L1180.5 475 L1181.5 475 L1182.5 475 L1183.5 474.99 L1184.5 474.99 L1185.5 474.99 L1186.5 474.99 L1187.5 474.99 L1188.5 474.99 L1189.5 474.98 L1190.5 474.98 L1191.5 474.98 L1192.5 474.98 L1193.5 474.97 L1194.5 474.97 L1195.5 474.96 L1196.5 474.96 L1197.5 474.96 L1198.5 474.95 L1199.5 474.95 L1200.5 474.94 L1201.5 474.94 L1202.5 474.93 L1203.5 474.93 L1204.5 474.92 L1205.5 474.91 L1206.5 474.91 L1207.5 474.9 L1208.5 474.89 L1209.5 474.89 L1210.5 474.88 L1211.5 474.87 L1212.5 474.86 L1213.5 474.85 L1214.5 474.84 L1215.5 474.83 L1216.5 474.82 L1217.5 474.81 L1218.5 474.8 L1219.5 474.79 L1220.5 474.78 L1221.5 474.77 L1222.5 474.76 L1223.5 474.75 L1224.5 474.73 L1225.5 474.72 L1226.5 474.71 L1227.5 474.69 L1228.5 474.64 L1229.5 474.55 L1230.5 474.43 L1231.5 474.27 L1232.5 474.09 L1233.5 473.88 L1234.5 473.65 L1235.5 473.39 L1236.5 473.11 L1237.5 472.81 L1238.5 472.5 L1239.5 472.17 L1240.5 471.81 L1241.5 471.31 L1242.5 470.67 L1243.5 469.93 L1244.5 469.13 L1245.5 468.28 L1246.5 467.42 L1247.5 466.55 L1248.5 465.51 L1249.5 464.36 L1250.5 463.2 L1251.5 462.15 L1252.5 461.31 L1253.5 460.73 L1254.5 460.2 L1255.5 459.72 L1256.5 459.3 L1257.5 458.99 L1258.5 458.82 L1259.5 458.85 L1260.5 459.21 L1261.5 459.85 L1262.5 460.68 L1263.5 461.61 L1264.5 462.55 L1265.5 463.48 L1266.5 464.64 L1267.5 465.97 L1268.5 467.33 L1269.5 468.59 L1270.5 469.61 L1271.5 470.33 L1272.5 470.95 L1273.5 471.52 L1274.5 472.02 L1275.5 472.44 L1276.5 472.78 L1277.5 473.02 L1278.5 473.22 L1279.5 473.41 L1280.5 473.59 L1281.5 473.76 L1282.5 473.93 L1283.5 474.08 L1284.5 474.22 L1285.5 474.36 L1286.5 474.48 L1287.5 474.59 L1288.5 474.69 L1289.5 474.77 L1290.5 474.85 L1291.5 474.91 L1292.5 474.95 L1293.5 474.98 L1294.5 475 L1295.5 475 L1296.5 475 L1297.5 475 L1298.5 475 L1299.5 474.99 L1300.5 474.99 L1301.5 474.99 L1302.5 474.98 L1303.5 474.98 L1304.5 474.98 L1305.5 474.97 L1306.5 474.96 L1307.5 474.96 L1308.5 474.95 L1309.5 474.94 L1310.5 474.93 L1311.5 474.92 L1312.5 474.91 L1313.5 474.9 L1314.5 474.89 L1315.5 474.88 L1316.5 474.87 L1317.5 474.86 L1318.5 474.85 L1319.5 474.83 L1320.5 474.82 L1321.5 474.8 L1322.5 474.79 L1323.5 474.77 L1324.5 474.76 L1325.5 474.74 L1326.5 474.72 L1327.5 474.7 L1328.5 474.67 L1329.5 474.63 L1330.5 474.56 L1331.5 474.47 L1332.5 474.36 L1333.5 474.23 L1334.5 474.08 L1335.5 473.92 L1336.5 473.74 L1337.5 473.54 L1338.5 473.33 L1339.5 473.11 L1340.5 472.87 L1341.5 472.61 L1342.5 472.34 L1343.5 472.07 L1344.5 471.78 L1345.5 471.47 L1346.5 471.16 L1347.5 470.84 L1348.5 470.51 L1349.5 470.17 L1350.5 469.82 L1351.5 469.4 L1352.5 468.91 L1353.5 468.34 L1354.5 467.69 L1355.5 466.95 L1356.5 466.12 L1357.5 465.2 L1358.5 464.06 L1359.5 462.52 L1360.5 460.64 L1361.5 458.51 L1362.5 456.2 L1363.5 453.68 L1364.5 450.52 L1365.5 447.01 L1366.5 443.57 L1367.5 440.46 L1368.5 437.27 L1369.5 434.27 L1370.5 431.85 L1371.5 430.29 L1372.5 428.95 L1373.5 427.85 L1374.5 427.16 L1375.5 427.05 L1376.5 427.78 L1377.5 429.19 L1378.5 431.02 L1379.5 433.26 L1380.5 437.03 L1381.5 441.64 L1382.5 446.12 L1383.5 449.71 L1384.5 453.14 L1385.5 456.39 L1386.5 459.25 L1387.5 461.48 L1388.5 463.07 L1389.5 464.48 L1390.5 465.73 L1391.5 466.83 L1392.5 467.78 L1393.5 468.58 L1394.5 469.23 L1395.5 469.75 L1396.5 470.23 L1397.5 470.7 L1398.5 471.15 L1399.5 471.57 L1400.5 471.97 L1401.5 472.34 L1402.5 472.67 L1403.5 472.98 L1404.5 473.24 L1405.5 473.47 L1406.5 473.65 L1407.5 473.78 L1408.5 473.87 L1409.5 473.9 L1409.6 473.9" fill="none" stroke="#a00000" stroke-width="4.6" stroke-linejoin="round" stroke-linecap="round"/>
<path d="M832.5 446.9 L833.5 446.74 L834.5 446.46 L835.5 446.17 L836.5 445.88 L837.5 445.6 L838.5 445.4 L839.5 445.27 L840.5 445.02 L841.5 444.59 L842.5 444.13 L843.5 443.82 L844.5 443.64 L845.5 443.44 L846.5 443.12 L847.5 442.76 L848.5 442.48 L849.5 442.37 L850.5 442.41 L851.5 442.43 L852.5 442.18 L853.5 441.7 L854.5 441.13 L855.5 440.52 L856.5 439.84 L857.5 439.18 L858.5 438.62 L859.5 438.24 L860.5 437.94 L861.5 437.57 L862.5 437.1 L863.5 436.67 L864.5 436.39 L865.5 436.14 L866.5 435.79 L867.5 435.29 L868.5 434.71 L869.5 434.1 L870.5 433.57 L871.5 433.13 L872.5 432.67 L873.5 432.11 L874.5 431.65 L875.5 431.34 L876.5 430.99 L877.5 430.32 L878.5 429.35 L879.5 428.33 L880.5 427.57 L881.5 427.21 L882.5 427.07 L883.5 426.79 L884.5 426.28 L885.5 425.66 L886.5 425 L887.5 424.25 L888.5 423.34 L889.5 422.34 L890.5 421.39 L891.5 420.63 L892.5 420.08 L893.5 419.6 L894.5 419.01 L895.5 418.17 L896.5 417.21 L897.5 416.45 L898.5 415.96 L899.5 415.5 L900.5 414.83 L901.5 413.97 L902.5 413.05 L903.5 412.19 L904.5 411.44 L905.5 410.61 L906.5 409.54 L907.5 408.14 L908.5 406.18 L909.5 403.8 L910.5 401.11 L911.5 397.98 L912.5 394.08 L913.5 388.6 L914.5 382.14 L915.5 375.49 L916.5 368.32 L917.5 360.5 L918.5 352.54 L919.5 344.94 L920.5 337.72 L921.5 330.32 L922.5 322.22 L923.5 312.7 L924.5 301.48 L925.5 289.35 L926.5 277.03 L927.5 264.73 L928.5 251.32 L929.5 238.04 L930.5 226.4 L931.5 217.71 L932.5 211.24 L933.5 206.11 L934.5 201.7 L935.5 197.21 L936.5 191.81 L937.5 184.9 L938.5 176.49 L939.5 167.34 L940.5 158.23 L941.5 149.8 L942.5 142.43 L943.5 135.54 L944.5 128.82 L945.5 122.22 L946.5 115.74 L947.5 109.16 L948.5 101.34 L949.5 94.63 L950.5 91.95 L951.5 93.34 L952.5 96.9 L953.5 101.57 L954.5 106.32 L955.5 111.65 L956.5 117.82 L957.5 125.18 L958.5 133.86 L959.5 145.02 L960.5 160.54 L961.5 177.56 L962.5 193.38 L963.5 209.45 L964.5 224.66 L965.5 237.09 L966.5 246.98 L967.5 256 L968.5 264.33 L969.5 271.98 L970.5 278.92 L971.5 285.35 L972.5 291.43 L973.5 297.16 L974.5 302.4 L975.5 307.06 L976.5 311.13 L977.5 314.56 L978.5 317.6 L979.5 320.53 L980.5 323.74 L981.5 327.31 L982.5 331.13 L983.5 334.78 L984.5 337.97 L985.5 340.7 L986.5 343.22 L987.5 345.64 L988.5 348 L989.5 350.33 L990.5 352.64 L991.5 354.89 L992.5 357.17 L993.5 359.58 L994.5 362.16 L995.5 364.78 L996.5 367.18 L997.5 369.39 L998.5 371.63 L999.5 374.05 L1000.5 376.65 L1001.5 379.35 L1002.5 382.04 L1003.5 384.69 L1004.5 387.37 L1005.5 390.04 L1006.5 392.54 L1007.5 394.72 L1008.5 396.52 L1009.5 398 L1010.5 399.41 L1011.5 400.87 L1012.5 402.38 L1013.5 403.92 L1014.5 405.43 L1015.5 406.73 L1016.5 407.68 L1017.5 408.54 L1018.5 409.6 L1019.5 410.79 L1020.5 411.92 L1021.5 413.01 L1022.5 413.97 L1023.5 414.6 L1024.5 414.87 L1025.5 415 L1026.5 415.33 L1027.5 416.03 L1028.5 416.79 L1029.5 417.28 L1030.5 417.5 L1031.5 417.75 L1032.5 418.12 L1033.5 418.44 L1034.5 418.65 L1035.5 418.88 L1036.5 419.21 L1037.5 419.53 L1038.5 419.56 L1039.5 419.23 L1040.5 418.84 L1041.5 418.67 L1042.5 418.61 L1043.5 418.54 L1044.5 418.44 L1045.5 418.25 L1046.5 417.98 L1047.5 417.69 L1048.5 417.46 L1049.5 417.22 L1050.5 416.85 L1051.5 416.31 L1052.5 415.74 L1053.5 415.29 L1054.5 415.05 L1055.5 415.11 L1056.5 415.31 L1057.5 415.21 L1058.5 414.57 L1059.5 413.5 L1060.5 412.3 L1061.5 411.14 L1062.5 410.11 L1063.5 409.33 L1064.5 408.88 L1065.5 408.82 L1066.5 408.95 L1067.5 409.02 L1068.5 408.96 L1069.5 408.87 L1070.5 408.96 L1071.5 409.3 L1072.5 409.99 L1073.5 411.01 L1074.5 412.24 L1075.5 413.46 L1076.5 414.74 L1077.5 416.11 L1078.5 417.64 L1079.5 419.29 L1080.5 420.93 L1081.5 422.44 L1082.5 423.78 L1083.5 425.1 L1084.5 426.33 L1085.5 427.3 L1086.5 427.92 L1087.5 428.26 L1088.5 428.56 L1089.5 428.87 L1090.5 429.16 L1091.5 429.55 L1092.5 430.07 L1093.5 430.56 L1094.5 430.91 L1095.5 431.22 L1096.5 431.67 L1097.5 432.09 L1098.5 432.23 L1099.5 432.13 L1100.5 432.2 L1101.5 432.75 L1102.5 433.56 L1103.5 434.1 L1104.5 434.15 L1105.5 434 L1106.5 433.81 L1107.5 433.47 L1108.5 433.03 L1109.5 432.78 L1110.5 432.94 L1111.5 433.46 L1112.5 434.09 L1113.5 434.5 L1114.5 434.66 L1115.5 434.78 L1116.5 434.95 L1117.5 435.07 L1118.5 435.1 L1119.5 435.03 L1120.5 434.81 L1121.5 434.47 L1122.5 434.23 L1123.5 434.23 L1124.5 434.52 L1125.5 435.01 L1126.5 435.5 L1127.5 435.81 L1128.5 435.95 L1129.5 436.07 L1130.5 436.22 L1131.5 436.39 L1132.5 436.66 L1133.5 437.03 L1134.5 437.26 L1135.5 437.15 L1136.5 436.79 L1137.5 436.32 L1138.5 435.79 L1139.5 435.36 L1140.5 435.27 L1141.5 435.52 L1142.5 435.96 L1143.5 436.4 L1144.5 436.68 L1145.5 436.75 L1146.5 436.65 L1147.5 436.57 L1148.5 436.73 L1149.5 437.15 L1150.5 437.64 L1151.5 438.01 L1152.5 438.14 L1153.5 438.02 L1154.5 437.86 L1155.5 437.96 L1156.5 438.26 L1157.5 438.55 L1158.5 438.58 L1159.5 438.38 L1160.5 438.14 L1161.5 438.02 L1162.5 438.05 L1163.5 438.18 L1164.5 438.34 L1165.5 438.36 L1166.5 438.09 L1167.5 437.66 L1168.5 437.37 L1169.5 437.43 L1170.5 437.65 L1171.5 437.77 L1172.5 437.73 L1173.5 437.68 L1174.5 437.77 L1175.5 437.97 L1176.5 438.16 L1177.5 438.19 L1178.5 437.95 L1179.5 437.6 L1180.5 437.42 L1181.5 437.43 L1182.5 437.34 L1183.5 437.2 L1184.5 437.13 L1185.5 437.02 L1186.5 436.76 L1187.5 436.4 L1188.5 436.05 L1189.5 435.82 L1190.5 435.79 L1191.5 435.84 L1192.5 435.75 L1193.5 435.52 L1194.5 435.34 L1195.5 435.25 L1196.5 435.14 L1197.5 434.9 L1198.5 434.64 L1199.5 434.46 L1200.5 434.29 L1201.5 434.1 L1202.5 433.98 L1203.5 433.99 L1204.5 434.12 L1205.5 434.32 L1206.5 434.56 L1207.5 434.77 L1208.5 434.78 L1209.5 434.44 L1210.5 433.84 L1211.5 433.27 L1212.5 432.79 L1213.5 432.32 L1214.5 431.96 L1215.5 431.96 L1216.5 432.32 L1217.5 432.73 L1218.5 432.93 L1219.5 432.92 L1220.5 432.72 L1221.5 432.37 L1222.5 431.95 L1223.5 431.62 L1224.5 431.5 L1225.5 431.57 L1226.5 431.81 L1227.5 432.17 L1228.5 432.46 L1229.5 432.48 L1230.5 432.3 L1231.5 432.24 L1232.5 432.4 L1233.5 432.55 L1234.5 432.39 L1235.5 431.96 L1236.5 431.59 L1237.5 431.56 L1238.5 431.81 L1239.5 432.02 L1240.5 431.92 L1241.5 431.49 L1242.5 430.95 L1243.5 430.48 L1244.5 430.19 L1245.5 429.92 L1246.5 429.53 L1247.5 428.91 L1248.5 428 L1249.5 426.99 L1250.5 426.17 L1251.5 425.75 L1252.5 425.74 L1253.5 425.92 L1254.5 426.15 L1255.5 426.37 L1256.5 426.67 L1257.5 427.11 L1258.5 427.61 L1259.5 428.08 L1260.5 428.47 L1261.5 428.86 L1262.5 429.25 L1263.5 429.66 L1264.5 430.18 L1265.5 430.78 L1266.5 431.43 L1267.5 432 L1268.5 432.43 L1269.5 432.72 L1270.5 432.95 L1271.5 433.17 L1272.5 433.28 L1273.5 433.2 L1274.5 433.21 L1275.5 433.6 L1276.5 434.39 L1277.5 435.38 L1278.5 436.31 L1279.5 436.82 L1280.5 436.68 L1281.5 436.05 L1282.5 435.5 L1283.5 435.46 L1284.5 435.88 L1285.5 436.41 L1286.5 436.79 L1287.5 436.97 L1288.5 437.05 L1289.5 437.21 L1290.5 437.54 L1291.5 438.01 L1292.5 438.43 L1293.5 438.57 L1294.5 438.36 L1295.5 438.02 L1296.5 437.85 L1297.5 437.96 L1298.5 438.17 L1299.5 438.3 L1300.5 438.25 L1301.5 438.11 L1302.5 438.12 L1303.5 438.35 L1304.5 438.59 L1305.5 438.56 L1306.5 438.27 L1307.5 438.05 L1308.5 438.17 L1309.5 438.48 L1310.5 438.64 L1311.5 438.55 L1312.5 438.38 L1313.5 438.3 L1314.5 438.32 L1315.5 438.36 L1316.5 438.34 L1317.5 438.13 L1318.5 437.69 L1319.5 437.17 L1320.5 436.76 L1321.5 436.52 L1322.5 436.36 L1323.5 436.19 L1324.5 436.07 L1325.5 435.99 L1326.5 435.89 L1327.5 435.69 L1328.5 435.32 L1329.5 434.77 L1330.5 434.2 L1331.5 433.81 L1332.5 433.66 L1333.5 433.44 L1334.5 432.84 L1335.5 431.73 L1336.5 430.27 L1337.5 428.79 L1338.5 427.45 L1339.5 425.92 L1340.5 424.07 L1341.5 421.95 L1342.5 419.69 L1343.5 417.23 L1344.5 414.26 L1345.5 411.09 L1346.5 408.12 L1347.5 405.49 L1348.5 402.98 L1349.5 400.2 L1350.5 397.23 L1351.5 394.32 L1352.5 391.75 L1353.5 389.55 L1354.5 387.63 L1355.5 385.75 L1356.5 383.61 L1357.5 381.41 L1358.5 379.55 L1359.5 378.25 L1360.5 377.52 L1361.5 377.26 L1362.5 377.68 L1363.5 378.92 L1364.5 380.71 L1365.5 382.73 L1366.5 384.94 L1367.5 387.26 L1368.5 389.6 L1369.5 392.46 L1370.5 395.73 L1371.5 399.33 L1372.5 403.22 L1373.5 407.09 L1374.5 410.5 L1375.5 413.48 L1376.5 416.28 L1377.5 418.99 L1378.5 421.63 L1379.5 424.15 L1380.5 426.42 L1381.5 428.5 L1382.5 430.34 L1383.5 431.96 L1384.5 433.53 L1385.5 435.03 L1386.5 436.29 L1387.5 437.15 L1388.5 437.65 L1389.5 438.08 L1390.5 438.58 L1391.5 439.13 L1392.5 439.74 L1393.5 440.41 L1394.5 441.11 L1395.5 441.74 L1396.5 442.12 L1397.5 442.23 L1398.5 442.29 L1399.5 442.64 L1400.5 443.28 L1401.5 443.89 L1402.5 444.3 L1403.5 444.48 L1404.5 444.47 L1405.5 444.43 L1406.5 444.45 L1407.5 444.49 L1408.5 444.44 L1409.5 444.35 L1409.6 444.17" fill="none" stroke="#0a0aff" stroke-width="4.6" stroke-linejoin="round" stroke-linecap="round"/>
</g>
<path d="M861.36 550 V545 M890.21 550 V541 M919.06 550 V545 M947.92 550 V541 M976.77 550 V545 M1005.63 550 V541 M1034.48 550 V545 M1063.34 550 V541 M1092.19 550 V545 M1121.05 550 V541 M1149.9 550 V545 M1178.76 550 V541 M1207.62 550 V545 M1236.47 550 V541 M1265.32 550 V545 M1294.18 550 V541 M1323.03 550 V545 M1351.89 550 V541 M1380.74 550 V545 M832.5 311.5 H837.5" stroke="#444" stroke-width="2" fill="none"/>
<rect x="832.5" y="80.3" width="577.1" height="469.7" fill="none" stroke="#454545" stroke-width="2.8"/>
<text font-family="'Liberation Sans', Arial, Helvetica, sans-serif" font-size="26" stroke="#2b2b2b" stroke-width="0.7" stroke-linejoin="round" fill="#2b2b2b" transform="matrix(0.99 0 0 1.03 810.91 581.1)">700</text>
<text font-family="'Liberation Sans', Arial, Helvetica, sans-serif" font-size="26" stroke="#2b2b2b" stroke-width="0.7" stroke-linejoin="round" fill="#2b2b2b" transform="matrix(0.99 0 0 1.03 868.62 581.1)">720</text>
<text font-family="'Liberation Sans', Arial, Helvetica, sans-serif" font-size="26" stroke="#2b2b2b" stroke-width="0.7" stroke-linejoin="round" fill="#2b2b2b" transform="matrix(0.99 0 0 1.03 926.33 581.1)">740</text>
<text font-family="'Liberation Sans', Arial, Helvetica, sans-serif" font-size="26" stroke="#2b2b2b" stroke-width="0.7" stroke-linejoin="round" fill="#2b2b2b" transform="matrix(0.99 0 0 1.03 984.04 581.1)">760</text>
<text font-family="'Liberation Sans', Arial, Helvetica, sans-serif" font-size="26" stroke="#2b2b2b" stroke-width="0.7" stroke-linejoin="round" fill="#2b2b2b" transform="matrix(0.99 0 0 1.03 1041.75 581.1)">780</text>
<text font-family="'Liberation Sans', Arial, Helvetica, sans-serif" font-size="26" stroke="#2b2b2b" stroke-width="0.7" stroke-linejoin="round" fill="#2b2b2b" transform="matrix(0.99 0 0 1.03 1099.46 581.1)">800</text>
<text font-family="'Liberation Sans', Arial, Helvetica, sans-serif" font-size="26" stroke="#2b2b2b" stroke-width="0.7" stroke-linejoin="round" fill="#2b2b2b" transform="matrix(0.99 0 0 1.03 1157.17 581.1)">820</text>
<text font-family="'Liberation Sans', Arial, Helvetica, sans-serif" font-size="26" stroke="#2b2b2b" stroke-width="0.7" stroke-linejoin="round" fill="#2b2b2b" transform="matrix(0.99 0 0 1.03 1214.88 581.1)">840</text>
<text font-family="'Liberation Sans', Arial, Helvetica, sans-serif" font-size="26" stroke="#2b2b2b" stroke-width="0.7" stroke-linejoin="round" fill="#2b2b2b" transform="matrix(0.99 0 0 1.03 1272.59 581.1)">860</text>
<text font-family="'Liberation Sans', Arial, Helvetica, sans-serif" font-size="26" stroke="#2b2b2b" stroke-width="0.7" stroke-linejoin="round" fill="#2b2b2b" transform="matrix(0.99 0 0 1.03 1330.3 581.1)">880</text>
<text font-family="'Liberation Sans', Arial, Helvetica, sans-serif" font-size="26" stroke="#2b2b2b" stroke-width="0.7" stroke-linejoin="round" fill="#2b2b2b" transform="matrix(0.99 0 0 1.03 1388.01 581.1)">900</text>
<text transform="matrix(1.03 0 0 1.06 977.3 637.3)" font-family="'Liberation Sans', Arial, Helvetica, sans-serif" font-size="34" fill="#1a1a1a">Raman shift (cm<tspan font-size="21.4" dy="-16.6">-1</tspan><tspan dy="16.6">)</tspan></text>
<text transform="matrix(0 -1.01 1.09 0 803.5 534.24)" font-family="'Liberation Sans', Arial, Helvetica, sans-serif" font-size="35" fill="#1a1a1a">Raman intensity (arb. units)</text>
<text transform="matrix(1.05 0 0 1.04 1043.65 121.7)" font-family="'Liberation Sans', Arial, Helvetica, sans-serif" font-size="22.5" font-weight="bold" fill="#111">(GaN)<tspan font-size="16.5" dy="9.6">6</tspan><tspan dy="-9.6">/(AlN)</tspan><tspan font-size="16.5" dy="9.6">6</tspan><tspan dy="-9.6"> SL</tspan></text>
<text transform="matrix(1.06 0 0 1.04 1309.9 124)" font-family="'Liberation Sans', Arial, Helvetica, sans-serif" font-size="22.5" font-weight="bold" fill="#111"><tspan font-style="italic">A</tspan><tspan font-size="14.5" dy="9.2">1</tspan><tspan dy="-9.2">(LO)</tspan></text>
<text transform="matrix(0.91 0 0 0.97 1465.97 54.88)" font-family="'Liberation Serif', 'Times New Roman', serif" font-size="60" fill="#000">(c)</text>
<g clip-path="url(#clipc)">
<rect x="1545" y="541.6" width="10" height="8" fill="url(#hatch)" stroke="#7a7a7a" stroke-width="1.6"/>
<rect x="1568.5" y="514.9" width="10" height="34.7" fill="url(#hatch)" stroke="#7a7a7a" stroke-width="1.6"/>
<rect x="1593.5" y="537.5" width="10.1" height="12.1" fill="url(#hatch)" stroke="#7a7a7a" stroke-width="1.6"/>
<rect x="1619.6" y="230.8" width="11.2" height="318.8" fill="url(#hatch)" stroke="#7a7a7a" stroke-width="1.6"/>
<rect x="1625.8" y="263.5" width="10" height="286.1" fill="url(#hatch)" stroke="#7a7a7a" stroke-width="1.6"/>
<rect x="1661.5" y="387" width="10.4" height="162.6" fill="url(#hatch)" stroke="#7a7a7a" stroke-width="1.6"/>
<rect x="1739" y="537.5" width="10" height="12.1" fill="url(#hatch)" stroke="#7a7a7a" stroke-width="1.6"/>
<rect x="1830.2" y="501.5" width="10" height="48.1" fill="url(#hatch)" stroke="#7a7a7a" stroke-width="1.6"/>
<rect x="1914.6" y="540" width="10.1" height="9.6" fill="url(#hatch)" stroke="#7a7a7a" stroke-width="1.6"/>
<rect x="1985.7" y="503.2" width="10" height="46.4" fill="url(#hatch)" stroke="#7a7a7a" stroke-width="1.6"/>
<rect x="2041.7" y="540.8" width="10.9" height="8.8" fill="url(#hatch)" stroke="#7a7a7a" stroke-width="1.6"/>
<rect x="2076" y="403.7" width="10" height="145.9" fill="url(#hatch)" stroke="#7a7a7a" stroke-width="1.6"/>
<path d="M1537 471.4 L1538 471.26 L1539 471.09 L1540 470.9 L1541 470.69 L1542 470.45 L1543 470.19 L1544 469.92 L1545 469.63 L1546 469.33 L1547 469.01 L1548 468.68 L1549 468.34 L1550 468 L1551 467.64 L1552 467.25 L1553 466.84 L1554 466.4 L1555 465.92 L1556 465.41 L1557 464.87 L1558 464.29 L1559 463.66 L1560 463 L1561 462.24 L1562 461.36 L1563 460.36 L1564 459.29 L1565 458.16 L1566 457 L1567 455.62 L1568 454.04 L1569 452.56 L1570 451.5 L1571 450.77 L1572 450.14 L1573 449.75 L1574 449.74 L1575 450.02 L1576 450.48 L1577 451 L1578 451.82 L1579 452.86 L1580 453.5 L1581 453.73 L1582 453.89 L1583 453.99 L1584 453.96 L1585 453.68 L1586 453.18 L1587 452.51 L1588 451.72 L1589 450.86 L1590 450 L1591 449.06 L1592 447.95 L1593 446.69 L1594 445.28 L1595 443.74 L1596 442.08 L1597 440.32 L1598 438.37 L1599 436.17 L1600 433.72 L1601 431.04 L1602 428.13 L1603 425 L1604 421.7 L1605 418.14 L1606 414.14 L1607 409.51 L1608 404.05 L1609 397.25 L1610 386.79 L1611 374.23 L1612 362 L1613 351.26 L1614 340.66 L1615 328.93 L1616 314.65 L1617 297.69 L1618 280 L1619 261.92 L1620 243.31 L1621 225.5 L1622 208.09 L1623 191 L1624 176.08 L1625 164.26 L1626 153.16 L1627 146.45 L1628 147.95 L1629 155.84 L1630 166.68 L1631 179.33 L1632 196.66 L1633 215 L1634 233.37 L1635 252 L1636 269.09 L1637 285.21 L1638 300 L1639 312.7 L1640 324.76 L1641 339.23 L1642 356.93 L1643 372.93 L1644 382.39 L1645 388.43 L1646 393.2 L1647 396.97 L1648 400 L1649 402.77 L1650 405.38 L1651 407.56 L1652 409.03 L1653 409.5 L1654 408.96 L1655 407.71 L1656 405.97 L1657 404 L1658 401.07 L1659 396.86 L1660 392.23 L1661 388 L1662 383.81 L1663 379.19 L1664 374.82 L1665 371.39 L1666 369.61 L1667 370.18 L1668 373.07 L1669 377.33 L1670 382 L1671 387.79 L1672 395.22 L1673 403.02 L1674 410 L1675 416.48 L1676 422.63 L1677 428 L1678 432.77 L1679 437.14 L1680 440.73 L1681 443.28 L1682 445.44 L1683 447.37 L1684 449.1 L1685 450.66 L1686 452.08 L1687 453.4 L1688 454.64 L1689 455.83 L1690 457 L1691 458.17 L1692 459.31 L1693 460.41 L1694 461.42 L1695 462.34 L1696 463.14 L1697 463.79 L1698 464.32 L1699 464.82 L1700 465.28 L1701 465.72 L1702 466.14 L1703 466.52 L1704 466.88 L1705 467.22 L1706 467.54 L1707 467.83 L1708 468.1 L1709 468.35 L1710 468.59 L1711 468.8 L1712 469 L1713 469.19 L1714 469.38 L1715 469.57 L1716 469.75 L1717 469.93 L1718 470.11 L1719 470.28 L1720 470.44 L1721 470.59 L1722 470.74 L1723 470.87 L1724 470.99 L1725 471.1 L1726 471.19 L1727 471.27 L1728 471.33 L1729 471.37 L1730 471.39 L1731 471.4 L1732 471.37 L1733 471.3 L1734 471.22 L1735 471.1 L1736 470.98 L1737 470.85 L1738 470.71 L1739 470.58 L1740 470.46 L1741 470.36 L1742 470.27 L1743 470.22 L1744 470.2 L1745 470.24 L1746 470.36 L1747 470.54 L1748 470.77 L1749 471.03 L1750 471.31 L1751 471.6 L1752 471.87 L1753 472.12 L1754 472.34 L1755 472.5 L1756 472.63 L1757 472.77 L1758 472.9 L1759 473.03 L1760 473.16 L1761 473.28 L1762 473.39 L1763 473.5 L1764 473.6 L1765 473.68 L1766 473.76 L1767 473.82 L1768 473.86 L1769 473.89 L1770 473.9 L1771 473.9 L1772 473.89 L1773 473.88 L1774 473.86 L1775 473.84 L1776 473.81 L1777 473.78 L1778 473.74 L1779 473.7 L1780 473.66 L1781 473.61 L1782 473.55 L1783 473.5 L1784 473.44 L1785 473.37 L1786 473.3 L1787 473.23 L1788 473.15 L1789 473.07 L1790 472.99 L1791 472.9 L1792 472.82 L1793 472.72 L1794 472.63 L1795 472.53 L1796 472.43 L1797 472.33 L1798 472.22 L1799 472.11 L1800 472 L1801 471.87 L1802 471.71 L1803 471.53 L1804 471.31 L1805 471.07 L1806 470.81 L1807 470.52 L1808 470.22 L1809 469.89 L1810 469.55 L1811 469.19 L1812 468.82 L1813 468.4 L1814 467.92 L1815 467.37 L1816 466.78 L1817 466.14 L1818 465.46 L1819 464.74 L1820 464 L1821 463.13 L1822 462.09 L1823 460.95 L1824 459.8 L1825 458.7 L1826 457.74 L1827 457 L1828 456.39 L1829 455.78 L1830 455.21 L1831 454.69 L1832 454.27 L1833 453.97 L1834 453.81 L1835 453.91 L1836 454.53 L1837 455.56 L1838 456.87 L1839 458.3 L1840 459.73 L1841 461 L1842 462.2 L1843 463.47 L1844 464.73 L1845 465.93 L1846 467 L1847 468.02 L1848 469.03 L1849 469.89 L1850 470.49 L1851 470.8 L1852 471.07 L1853 471.33 L1854 471.56 L1855 471.78 L1856 471.98 L1857 472.17 L1858 472.34 L1859 472.5 L1860 472.64 L1861 472.77 L1862 472.89 L1863 473 L1864 473.1 L1865 473.19 L1866 473.26 L1867 473.33 L1868 473.4 L1869 473.45 L1870 473.5 L1871 473.55 L1872 473.59 L1873 473.63 L1874 473.68 L1875 473.72 L1876 473.76 L1877 473.8 L1878 473.84 L1879 473.88 L1880 473.92 L1881 473.95 L1882 473.99 L1883 474.03 L1884 474.06 L1885 474.09 L1886 474.13 L1887 474.16 L1888 474.19 L1889 474.22 L1890 474.25 L1891 474.28 L1892 474.31 L1893 474.33 L1894 474.36 L1895 474.38 L1896 474.41 L1897 474.43 L1898 474.45 L1899 474.47 L1900 474.49 L1901 474.51 L1902 474.53 L1903 474.55 L1904 474.57 L1905 474.58 L1906 474.6 L1907 474.61 L1908 474.62 L1909 474.63 L1910 474.65 L1911 474.65 L1912 474.66 L1913 474.67 L1914 474.68 L1915 474.68 L1916 474.69 L1917 474.69 L1918 474.7 L1919 474.7 L1920 474.7 L1921 474.7 L1922 474.7 L1923 474.69 L1924 474.68 L1925 474.67 L1926 474.66 L1927 474.64 L1928 474.62 L1929 474.6 L1930 474.57 L1931 474.55 L1932 474.52 L1933 474.49 L1934 474.46 L1935 474.42 L1936 474.39 L1937 474.35 L1938 474.31 L1939 474.27 L1940 474.23 L1941 474.19 L1942 474.14 L1943 474.1 L1944 474.05 L1945 474 L1946 473.96 L1947 473.91 L1948 473.86 L1949 473.81 L1950 473.76 L1951 473.71 L1952 473.65 L1953 473.6 L1954 473.55 L1955 473.5 L1956 473.45 L1957 473.4 L1958 473.34 L1959 473.29 L1960 473.23 L1961 473.17 L1962 473.11 L1963 473.04 L1964 472.96 L1965 472.87 L1966 472.78 L1967 472.68 L1968 472.56 L1969 472.44 L1970 472.3 L1971 472.15 L1972 471.92 L1973 471.6 L1974 471.21 L1975 470.74 L1976 470.21 L1977 469.63 L1978 469 L1979 468.17 L1980 467.04 L1981 465.73 L1982 464.38 L1983 463.09 L1984 462 L1985 460.98 L1986 459.9 L1987 458.85 L1988 457.9 L1989 457.16 L1990 456.7 L1991 456.62 L1992 456.98 L1993 457.7 L1994 458.66 L1995 459.78 L1996 460.92 L1997 462 L1998 463.14 L1999 464.44 L2000 465.78 L2001 467.01 L2002 468 L2003 468.84 L2004 469.68 L2005 470.43 L2006 471.01 L2007 471.35 L2008 471.41 L2009 471.42 L2010 471.43 L2011 471.43 L2012 471.44 L2013 471.45 L2014 471.46 L2015 471.46 L2016 471.47 L2017 471.47 L2018 471.48 L2019 471.48 L2020 471.49 L2021 471.49 L2022 471.49 L2023 471.49 L2024 471.5 L2025 471.5 L2026 471.5 L2027 471.5 L2028 471.5 L2029 471.5 L2030 471.5 L2031 471.49 L2032 471.47 L2033 471.43 L2034 471.38 L2035 471.32 L2036 471.24 L2037 471.14 L2038 471.03 L2039 470.91 L2040 470.77 L2041 470.62 L2042 470.45 L2043 470.27 L2044 470.07 L2045 469.86 L2046 469.63 L2047 469.39 L2048 469.14 L2049 468.87 L2050 468.59 L2051 468.29 L2052 467.97 L2053 467.65 L2054 467.31 L2055 466.88 L2056 466.18 L2057 465.23 L2058 464.07 L2059 462.73 L2060 461.25 L2061 459.66 L2062 458 L2063 456.07 L2064 453.7 L2065 450.99 L2066 448.06 L2067 445 L2068 441.54 L2069 437.63 L2070 433.65 L2071 430 L2072 426.57 L2073 423.11 L2074 419.88 L2075 417.1 L2076 415 L2077 413.33 L2078 411.75 L2079 410.44 L2080 409.54 L2081 409.2 L2082 409.76 L2083 411.23 L2084 413.33 L2085 415.76 L2086 418.45 L2087 422.41 L2088 427.32 L2089 432.6 L2090 437.68 L2091 442 L2092 445.76 L2093 449.41 L2094 452.79 L2095 455.72 L2096 458 L2097 459.8 L2098 461.38 L2099 462.78 L2100 464 L2101 465.07 L2102 466 L2103 466.85 L2104 467.66 L2105 468.42 L2106 469.1 L2107 469.68 L2108 470.16 L2109 470.52 L2109.3 470.6" fill="none" stroke="#a00000" stroke-width="4.6" stroke-linejoin="round" stroke-linecap="round"/>
<path d="M1537 436.23 L1538 435.93 L1539 435.54 L1540 435.17 L1541 435.03 L1542 435.14 L1543 435.22 L1544 435.1 L1545 434.71 L1546 434.18 L1547 433.6 L1548 433.01 L1549 432.44 L1550 431.98 L1551 431.64 L1552 431.32 L1553 431.01 L1554 430.65 L1555 430.22 L1556 429.65 L1557 428.96 L1558 428.36 L1559 428.05 L1560 427.92 L1561 427.74 L1562 427.43 L1563 427.05 L1564 426.57 L1565 426.06 L1566 425.65 L1567 425.24 L1568 424.69 L1569 424.13 L1570 423.76 L1571 423.45 L1572 423.06 L1573 422.56 L1574 422.06 L1575 421.61 L1576 421.23 L1577 420.84 L1578 420.33 L1579 419.71 L1580 419.05 L1581 418.33 L1582 417.57 L1583 416.85 L1584 416.27 L1585 415.72 L1586 415.07 L1587 414.2 L1588 413.13 L1589 411.91 L1590 410.64 L1591 409.55 L1592 408.81 L1593 408.41 L1594 408.14 L1595 407.67 L1596 406.83 L1597 405.66 L1598 404.32 L1599 402.98 L1600 401.77 L1601 400.77 L1602 399.94 L1603 399.01 L1604 397.57 L1605 395.45 L1606 392.75 L1607 389.29 L1608 385.21 L1609 381.1 L1610 377.35 L1611 374.11 L1612 371.07 L1613 368.11 L1614 365.06 L1615 361.73 L1616 358.3 L1617 354.98 L1618 351.67 L1619 348.04 L1620 343.66 L1621 338.11 L1622 331.16 L1623 323.49 L1624 314.39 L1625 304.83 L1626 296.4 L1627 288.73 L1628 281.14 L1629 273.11 L1630 264.87 L1631 256.57 L1632 248.18 L1633 239.56 L1634 230.46 L1635 220.63 L1636 209.78 L1637 198.99 L1638 189.31 L1639 180.46 L1640 171.87 L1641 162.84 L1642 153.19 L1643 145.92 L1644 141.29 L1645 139.31 L1646 140.89 L1647 143.97 L1648 147.36 L1649 152.01 L1650 157.07 L1651 161.45 L1652 165.44 L1653 169.42 L1654 172.37 L1655 173.34 L1656 172.06 L1657 169.54 L1658 166.76 L1659 164.13 L1660 160.7 L1661 156.96 L1662 153.75 L1663 151.01 L1664 148.49 L1665 146.68 L1666 145.85 L1667 146.17 L1668 147.02 L1669 148.06 L1670 149.24 L1671 150.81 L1672 152.87 L1673 155.17 L1674 157.84 L1675 161 L1676 164.34 L1677 167.56 L1678 170.75 L1679 174.16 L1680 178 L1681 182.43 L1682 187.39 L1683 192.7 L1684 198.16 L1685 203.62 L1686 208.85 L1687 213.78 L1688 218.59 L1689 223.52 L1690 228.66 L1691 233.86 L1692 238.82 L1693 243.45 L1694 248.04 L1695 252.88 L1696 258.09 L1697 263.62 L1698 269.18 L1699 274.44 L1700 279.3 L1701 283.98 L1702 288.8 L1703 294.02 L1704 299.53 L1705 304.89 L1706 309.79 L1707 314.34 L1708 318.71 L1709 322.78 L1710 326.44 L1711 329.63 L1712 332.39 L1713 334.95 L1714 337.64 L1715 340.59 L1716 343.66 L1717 346.83 L1718 350.08 L1719 353.38 L1720 356.77 L1721 360.32 L1722 363.89 L1723 367.17 L1724 370.1 L1725 372.82 L1726 375.4 L1727 377.69 L1728 379.59 L1729 381.3 L1730 382.84 L1731 384.32 L1732 385.95 L1733 387.75 L1734 389.54 L1735 391.08 L1736 392.25 L1737 393.13 L1738 393.8 L1739 394.21 L1740 394.44 L1741 394.67 L1742 394.98 L1743 395.41 L1744 396.05 L1745 396.82 L1746 397.57 L1747 398.21 L1748 398.72 L1749 399.03 L1750 399.01 L1751 398.72 L1752 398.34 L1753 398.19 L1754 398.37 L1755 398.66 L1756 398.65 L1757 398.27 L1758 397.79 L1759 397.46 L1760 397.33 L1761 397.42 L1762 397.53 L1763 397.49 L1764 397.27 L1765 397 L1766 396.7 L1767 396.25 L1768 395.66 L1769 394.96 L1770 394.25 L1771 393.67 L1772 393.32 L1773 393.09 L1774 392.77 L1775 392.17 L1776 391.28 L1777 390.25 L1778 389.33 L1779 388.66 L1780 388.1 L1781 387.49 L1782 386.95 L1783 386.57 L1784 386.16 L1785 385.52 L1786 384.85 L1787 384.37 L1788 384.15 L1789 384.25 L1790 384.7 L1791 385.36 L1792 386.04 L1793 386.69 L1794 387.42 L1795 388.16 L1796 388.84 L1797 389.37 L1798 389.62 L1799 389.7 L1800 389.91 L1801 390.21 L1802 390.55 L1803 390.98 L1804 391.57 L1805 392.18 L1806 392.71 L1807 393.23 L1808 393.7 L1809 393.99 L1810 394.19 L1811 394.46 L1812 394.94 L1813 395.66 L1814 396.47 L1815 397.23 L1816 397.86 L1817 398.3 L1818 398.41 L1819 398.12 L1820 397.47 L1821 396.6 L1822 395.69 L1823 394.83 L1824 394.05 L1825 393.47 L1826 393.2 L1827 393.05 L1828 392.88 L1829 392.79 L1830 392.82 L1831 392.78 L1832 392.74 L1833 393.05 L1834 393.89 L1835 394.98 L1836 395.94 L1837 396.62 L1838 397.2 L1839 397.93 L1840 398.81 L1841 399.62 L1842 400.27 L1843 400.66 L1844 400.91 L1845 401.22 L1846 401.74 L1847 402.42 L1848 403.17 L1849 403.97 L1850 404.82 L1851 405.58 L1852 406.15 L1853 406.42 L1854 406.5 L1855 406.61 L1856 406.96 L1857 407.57 L1858 408.3 L1859 408.83 L1860 408.93 L1861 408.73 L1862 408.61 L1863 408.84 L1864 409.36 L1865 409.92 L1866 410.22 L1867 410.18 L1868 410 L1869 410 L1870 410.28 L1871 410.68 L1872 411.03 L1873 411.43 L1874 411.84 L1875 412.01 L1876 411.94 L1877 411.91 L1878 412.03 L1879 412.13 L1880 412.12 L1881 412.03 L1882 411.98 L1883 412.08 L1884 412.39 L1885 412.81 L1886 413.21 L1887 413.49 L1888 413.63 L1889 413.75 L1890 413.81 L1891 413.52 L1892 412.82 L1893 412.1 L1894 411.75 L1895 411.75 L1896 411.94 L1897 412.28 L1898 412.75 L1899 413.32 L1900 413.82 L1901 413.94 L1902 413.44 L1903 412.53 L1904 411.64 L1905 411.13 L1906 411.01 L1907 411.15 L1908 411.49 L1909 412 L1910 412.46 L1911 412.64 L1912 412.48 L1913 412.18 L1914 411.88 L1915 411.63 L1916 411.3 L1917 410.73 L1918 410.06 L1919 409.64 L1920 409.66 L1921 409.91 L1922 409.99 L1923 409.72 L1924 409.24 L1925 408.71 L1926 408.21 L1927 407.81 L1928 407.63 L1929 407.56 L1930 407.43 L1931 407.26 L1932 407.19 L1933 407.18 L1934 407.11 L1935 406.86 L1936 406.45 L1937 405.94 L1938 405.33 L1939 404.65 L1940 404 L1941 403.47 L1942 403.08 L1943 402.91 L1944 402.99 L1945 403.2 L1946 403.29 L1947 403.07 L1948 402.4 L1949 401.5 L1950 400.76 L1951 400.36 L1952 400.06 L1953 399.59 L1954 398.91 L1955 398.09 L1956 397.15 L1957 396.23 L1958 395.47 L1959 394.88 L1960 394.44 L1961 394.25 L1962 394.29 L1963 394.27 L1964 393.9 L1965 393.27 L1966 392.8 L1967 392.73 L1968 392.87 L1969 392.97 L1970 393.03 L1971 393.23 L1972 393.71 L1973 394.46 L1974 395.31 L1975 396.04 L1976 396.69 L1977 397.28 L1978 397.82 L1979 398.4 L1980 399.05 L1981 399.61 L1982 400 L1983 400.33 L1984 400.72 L1985 401.16 L1986 401.61 L1987 402.1 L1988 402.68 L1989 403.37 L1990 404.05 L1991 404.64 L1992 405.08 L1993 405.29 L1994 405.35 L1995 405.5 L1996 405.85 L1997 406.26 L1998 406.57 L1999 406.65 L2000 406.57 L2001 406.54 L2002 406.69 L2003 406.95 L2004 407.2 L2005 407.36 L2006 407.54 L2007 407.81 L2008 408.24 L2009 408.81 L2010 409.42 L2011 409.9 L2012 410.22 L2013 410.46 L2014 410.72 L2015 411 L2016 411.21 L2017 411.28 L2018 411.28 L2019 411.3 L2020 411.35 L2021 411.4 L2022 411.44 L2023 411.42 L2024 411.2 L2025 410.79 L2026 410.24 L2027 409.8 L2028 409.56 L2029 409.47 L2030 409.3 L2031 408.94 L2032 408.42 L2033 407.73 L2034 406.81 L2035 405.75 L2036 404.82 L2037 404.17 L2038 403.6 L2039 402.73 L2040 401.38 L2041 399.75 L2042 398.09 L2043 396.57 L2044 395.22 L2045 393.88 L2046 392.06 L2047 389.47 L2048 386.17 L2049 382.43 L2050 378.51 L2051 374.62 L2052 370.1 L2053 364.51 L2054 358.12 L2055 351.26 L2056 344.23 L2057 337.51 L2058 331.54 L2059 325.5 L2060 319.36 L2061 313.53 L2062 308.53 L2063 304.88 L2064 302.09 L2065 299.49 L2066 297.05 L2067 294.91 L2068 293.31 L2069 292.46 L2070 292.37 L2071 293.02 L2072 294.45 L2073 296.67 L2074 299.45 L2075 304.26 L2076 311.85 L2077 320.9 L2078 330.14 L2079 338.35 L2080 344.9 L2081 351.07 L2082 356.88 L2083 362.15 L2084 366.93 L2085 371.23 L2086 375.41 L2087 379.7 L2088 384.26 L2089 389.11 L2090 394.12 L2091 399.19 L2092 404.16 L2093 409.15 L2094 414.17 L2095 418.84 L2096 422.87 L2097 425.98 L2098 427.98 L2099 429.35 L2100 430.48 L2101 431.53 L2102 432.56 L2103 433.6 L2104 434.62 L2105 435.59 L2106 436.34 L2107 436.83 L2108 437.13 L2109 437.43 L2109.3 437.55" fill="none" stroke="#0a0aff" stroke-width="4.6" stroke-linejoin="round" stroke-linecap="round"/>
</g>
<path d="M1565.62 547.6 V542.6 M1594.23 547.6 V538.6 M1622.85 547.6 V542.6 M1651.46 547.6 V538.6 M1680.08 547.6 V542.6 M1708.69 547.6 V538.6 M1737.31 547.6 V542.6 M1765.92 547.6 V538.6 M1794.54 547.6 V542.6 M1823.15 547.6 V538.6 M1851.77 547.6 V542.6 M1880.38 547.6 V538.6 M1909 547.6 V542.6 M1937.61 547.6 V538.6 M1966.23 547.6 V542.6 M1994.84 547.6 V538.6 M2023.46 547.6 V542.6 M2052.07 547.6 V538.6 M2080.69 547.6 V542.6 M1537 312.8 H1542" stroke="#444" stroke-width="2" fill="none"/>
<rect x="1537" y="85.3" width="572.3" height="462.3" fill="none" stroke="#7a7a7a" stroke-width="2.8"/>
<text font-family="'Liberation Sans', Arial, Helvetica, sans-serif" font-size="26" stroke="#2b2b2b" stroke-width="0.7" stroke-linejoin="round" fill="#2b2b2b" transform="matrix(0.98 0 0 1.03 1516.02 578.6)">700</text>
<text font-family="'Liberation Sans', Arial, Helvetica, sans-serif" font-size="26" stroke="#2b2b2b" stroke-width="0.7" stroke-linejoin="round" fill="#2b2b2b" transform="matrix(0.98 0 0 1.03 1573.25 578.6)">720</text>
<text font-family="'Liberation Sans', Arial, Helvetica, sans-serif" font-size="26" stroke="#2b2b2b" stroke-width="0.7" stroke-linejoin="round" fill="#2b2b2b" transform="matrix(0.98 0 0 1.03 1630.48 578.6)">740</text>
<text font-family="'Liberation Sans', Arial, Helvetica, sans-serif" font-size="26" stroke="#2b2b2b" stroke-width="0.7" stroke-linejoin="round" fill="#2b2b2b" transform="matrix(0.98 0 0 1.03 1687.71 578.6)">760</text>
<text font-family="'Liberation Sans', Arial, Helvetica, sans-serif" font-size="26" stroke="#2b2b2b" stroke-width="0.7" stroke-linejoin="round" fill="#2b2b2b" transform="matrix(0.98 0 0 1.03 1744.94 578.6)">780</text>
<text font-family="'Liberation Sans', Arial, Helvetica, sans-serif" font-size="26" stroke="#2b2b2b" stroke-width="0.7" stroke-linejoin="round" fill="#2b2b2b" transform="matrix(0.98 0 0 1.03 1802.17 578.6)">800</text>
<text font-family="'Liberation Sans', Arial, Helvetica, sans-serif" font-size="26" stroke="#2b2b2b" stroke-width="0.7" stroke-linejoin="round" fill="#2b2b2b" transform="matrix(0.98 0 0 1.03 1859.4 578.6)">820</text>
<text font-family="'Liberation Sans', Arial, Helvetica, sans-serif" font-size="26" stroke="#2b2b2b" stroke-width="0.7" stroke-linejoin="round" fill="#2b2b2b" transform="matrix(0.98 0 0 1.03 1916.63 578.6)">840</text>
<text font-family="'Liberation Sans', Arial, Helvetica, sans-serif" font-size="26" stroke="#2b2b2b" stroke-width="0.7" stroke-linejoin="round" fill="#2b2b2b" transform="matrix(0.98 0 0 1.03 1973.86 578.6)">860</text>
<text font-family="'Liberation Sans', Arial, Helvetica, sans-serif" font-size="26" stroke="#2b2b2b" stroke-width="0.7" stroke-linejoin="round" fill="#2b2b2b" transform="matrix(0.98 0 0 1.03 2031.09 578.6)">880</text>
<text font-family="'Liberation Sans', Arial, Helvetica, sans-serif" font-size="26" stroke="#2b2b2b" stroke-width="0.7" stroke-linejoin="round" fill="#2b2b2b" transform="matrix(0.98 0 0 1.03 2088.32 578.6)">900</text>
<text transform="matrix(1.03 0 0 1.04 1680.42 635.6)" font-family="'Liberation Sans', Arial, Helvetica, sans-serif" font-size="34" fill="#1a1a1a">Raman shift (cm<tspan font-size="21.4" dy="-16.6">-1</tspan><tspan dy="16.6">)</tspan></text>
<text transform="matrix(0 -1 1.06 0 1508.5 531.8)" font-family="'Liberation Sans', Arial, Helvetica, sans-serif" font-size="35" fill="#1a1a1a">Raman intensity (arb. units)</text>
<text transform="matrix(1.04 0 0 1.08 1746.66 126.6)" font-family="'Liberation Sans', Arial, Helvetica, sans-serif" font-size="22.5" font-weight="bold" fill="#111">(GaN)<tspan font-size="16.5" dy="9.6">5</tspan><tspan dy="-9.6">/(AlN)</tspan><tspan font-size="16.5" dy="9.6">7</tspan><tspan dy="-9.6"> SL</tspan></text>
<text transform="matrix(1.06 0 0 1.07 2010.4 128.4)" font-family="'Liberation Sans', Arial, Helvetica, sans-serif" font-size="22.5" font-weight="bold" fill="#111"><tspan font-style="italic">A</tspan><tspan font-size="14.5" dy="9.2">1</tspan><tspan dy="-9.2">(LO)</tspan></text>
<text font-family="'Liberation Sans', Arial, Helvetica, sans-serif" font-size="23" stroke="#222" stroke-width="0.5" stroke-linejoin="round" font-style="italic" fill="#222" transform="matrix(0.96 0 0 0.96 227.98 509.6)">5</text>
<text font-family="'Liberation Sans', Arial, Helvetica, sans-serif" font-size="23" stroke="#222" stroke-width="0.5" stroke-linejoin="round" font-style="italic" fill="#222" transform="matrix(0.96 0 0 0.96 362.61 543.55)">4</text>
<text font-family="'Liberation Sans', Arial, Helvetica, sans-serif" font-size="23" stroke="#222" stroke-width="0.5" stroke-linejoin="round" font-style="italic" fill="#222" transform="matrix(0.96 0 0 0.96 478.83 525.45)">3</text>
<text font-family="'Liberation Sans', Arial, Helvetica, sans-serif" font-size="23" stroke="#222" stroke-width="0.5" stroke-linejoin="round" font-style="italic" fill="#222" transform="matrix(0.96 0 0 0.96 574.58 546.4)">2</text>
<text font-family="'Liberation Sans', Arial, Helvetica, sans-serif" font-size="23" stroke="#222" stroke-width="0.5" stroke-linejoin="round" font-style="italic" fill="#222" transform="matrix(0.96 0 0 0.96 621.14 535.5)">1</text>
<text font-family="'Liberation Sans', Arial, Helvetica, sans-serif" font-size="23" stroke="#222" stroke-width="0.5" stroke-linejoin="round" font-style="italic" fill="#222" transform="matrix(0.96 0 0 0.96 965.4 516.8)">6</text>
<text font-family="'Liberation Sans', Arial, Helvetica, sans-serif" font-size="23" stroke="#222" stroke-width="0.5" stroke-linejoin="round" font-style="italic" fill="#222" transform="matrix(0.96 0 0 0.96 1058.63 482.9)">5</text>
<text font-family="'Liberation Sans', Arial, Helvetica, sans-serif" font-size="23" stroke="#222" stroke-width="0.5" stroke-linejoin="round" font-style="italic" fill="#222" transform="matrix(0.96 0 0 0.96 1162.06 533.8)">4</text>
<text font-family="'Liberation Sans', Arial, Helvetica, sans-serif" font-size="23" stroke="#222" stroke-width="0.5" stroke-linejoin="round" font-style="italic" fill="#222" transform="matrix(0.96 0 0 0.96 1254.83 503)">3</text>
<text font-family="'Liberation Sans', Arial, Helvetica, sans-serif" font-size="23" stroke="#222" stroke-width="0.5" stroke-linejoin="round" font-style="italic" fill="#222" transform="matrix(0.96 0 0 0.96 1324.63 535.2)">2</text>
<text font-family="'Liberation Sans', Arial, Helvetica, sans-serif" font-size="23" stroke="#222" stroke-width="0.5" stroke-linejoin="round" font-style="italic" fill="#222" transform="matrix(0.96 0 0 0.96 1356.09 500.85)">1</text>
<text font-family="'Liberation Sans', Arial, Helvetica, sans-serif" font-size="23" stroke="#222" stroke-width="0.5" stroke-linejoin="round" font-style="italic" fill="#222" transform="matrix(0.96 0 0 0.96 1659.43 357.95)">7</text>
<text font-family="'Liberation Sans', Arial, Helvetica, sans-serif" font-size="23" stroke="#222" stroke-width="0.5" stroke-linejoin="round" font-style="italic" fill="#222" transform="matrix(0.96 0 0 0.96 1736.45 528.9)">6</text>
<text font-family="'Liberation Sans', Arial, Helvetica, sans-serif" font-size="23" stroke="#222" stroke-width="0.5" stroke-linejoin="round" font-style="italic" fill="#222" transform="matrix(0.96 0 0 0.96 1828.98 493.4)">5</text>
<text font-family="'Liberation Sans', Arial, Helvetica, sans-serif" font-size="23" stroke="#222" stroke-width="0.5" stroke-linejoin="round" font-style="italic" fill="#222" transform="matrix(0.96 0 0 0.96 1915.56 533.95)">4</text>
<text font-family="'Liberation Sans', Arial, Helvetica, sans-serif" font-size="23" stroke="#222" stroke-width="0.5" stroke-linejoin="round" font-style="italic" fill="#222" transform="matrix(0.96 0 0 0.96 1985.73 494.6)">3</text>
<text font-family="'Liberation Sans', Arial, Helvetica, sans-serif" font-size="23" stroke="#222" stroke-width="0.5" stroke-linejoin="round" font-style="italic" fill="#222" transform="matrix(0.96 0 0 0.96 2041.73 533.15)">2</text>
<text font-family="'Liberation Sans', Arial, Helvetica, sans-serif" font-size="23" stroke="#222" stroke-width="0.5" stroke-linejoin="round" font-style="italic" fill="#222" transform="matrix(0.96 0 0 0.96 2061.94 493.85)">1</text>
<text font-family="'Liberation Serif', 'Times New Roman', serif" font-size="54" font-style="italic" fill="#000" transform="matrix(1.08 0 0 1.02 119.92 719.58)">5</text>
<line x1="23.2" y1="835" x2="691.1" y2="835" stroke="#6e6e6e" stroke-width="2.2"/>
<rect x="51.8" y="825.6" width="5.6" height="9.4" rx="1.6" fill="#14d8d8"/>
<rect x="91.8" y="835" width="5.6" height="19.3" rx="1.6" fill="#0a0aa8"/>
<rect x="145.2" y="835" width="5.6" height="4.8" rx="1.6" fill="#0a0aa8"/>
<rect x="358" y="835" width="5.6" height="14.2" rx="1.6" fill="#0a0aa8"/>
<rect x="371.5" y="828.3" width="5.6" height="6.7" rx="1.6" fill="#14d8d8"/>
<rect x="411.4" y="835" width="5.6" height="50.5" rx="1.6" fill="#0a0aa8"/>
<rect x="423.3" y="821.3" width="5.6" height="13.7" rx="1.6" fill="#ff2a12"/>
<rect x="462.1" y="814.4" width="5.6" height="20.6" rx="1.6" fill="#0a0aa8"/>
<rect x="474" y="835" width="5.6" height="14.4" rx="1.6" fill="#ff2a12"/>
<rect x="513.1" y="825.1" width="5.6" height="9.9" rx="1.6" fill="#0a0aa8"/>
<rect x="524.8" y="819.8" width="5.6" height="15.2" rx="1.6" fill="#ff2a12"/>
<rect x="563.6" y="835" width="5.6" height="38.2" rx="1.6" fill="#0a0aa8"/>
<rect x="575.4" y="835" width="5.6" height="10.6" rx="1.6" fill="#ff2a12"/>
<rect x="614.2" y="775.3" width="5.6" height="59.7" rx="1.6" fill="#0a0aa8"/>
<rect x="625.9" y="828.6" width="5.6" height="6.4" rx="1.6" fill="#ff2a12"/>
<rect x="665.2" y="835" width="5.6" height="67.2" rx="1.6" fill="#0a0aa8"/>
<path d="M413.5 749H434.3M451.75 749H472.55M490 749H510.8M528.25 749H549.05M566.5 749H587.3M604.75 749H625.55M643 749H663.8M681.25 749H699.8M681.2 749H699.8M408.9 924.7H429.7M447.15 924.7H467.95M485.4 924.7H506.2M523.65 924.7H544.45M561.9 924.7H582.7M600.15 924.7H620.95M638.4 924.7H659.2M676.65 924.7H697.45M398 751.3V772.1M398 789.5V810.3M398 827.7V848.5M398 865.9V886.7M398 904.1V924.9M697.2 746.4V767.2M697.2 771.8V792.6M697.2 809.9V830.7M697.2 848V868.8M697.2 886.1V906.9" stroke="#000" stroke-width="5.2" fill="none"/>
<text font-family="'Liberation Serif', 'Times New Roman', serif" font-size="54" font-style="italic" fill="#000" transform="matrix(1.01 0 0 1 867.09 718.7)">5</text>
<line x1="772.5" y1="837.3" x2="1436" y2="837.3" stroke="#3e3e3e" stroke-width="2.1"/>
<rect x="800.4" y="830.3" width="5.6" height="7" rx="1.6" fill="#14d8d8"/>
<rect x="840.4" y="837.3" width="5.6" height="8" rx="1.6" fill="#0a0aa8"/>
<rect x="1052.5" y="837.3" width="5.6" height="7.3" rx="1.6" fill="#0a0aa8"/>
<rect x="1066" y="833.2" width="5.6" height="4.1" rx="1.6" fill="#14d8d8"/>
<rect x="1106.1" y="837.3" width="5.6" height="51.2" rx="1.6" fill="#0a0aa8"/>
<rect x="1118.4" y="813.7" width="5.6" height="23.6" rx="1.6" fill="#ff2a12"/>
<rect x="1156.9" y="837.3" width="5.6" height="8.3" rx="1.6" fill="#0a0aa8"/>
<rect x="1168.3" y="837.3" width="5.6" height="21.5" rx="1.6" fill="#ff2a12"/>
<rect x="1207.2" y="779.6" width="5.6" height="57.7" rx="1.6" fill="#0a0aa8"/>
<rect x="1219.1" y="833.4" width="5.6" height="3.9" rx="1.6" fill="#ff2a12"/>
<rect x="1257.6" y="837.3" width="5.6" height="67.9" rx="1.6" fill="#0a0aa8"/>
<rect x="1269.9" y="823.7" width="5.6" height="13.6" rx="1.6" fill="#ff2a12"/>
<rect x="1308.5" y="805" width="5.6" height="32.3" rx="1.6" fill="#0a0aa8"/>
<rect x="1320.4" y="837.3" width="5.6" height="23.2" rx="1.6" fill="#ff2a12"/>
<rect x="1359.2" y="813.7" width="5.6" height="23.6" rx="1.6" fill="#0a0aa8"/>
<rect x="1371.2" y="820.2" width="5.6" height="17.1" rx="1.6" fill="#ff2a12"/>
<rect x="1409.7" y="837.3" width="5.6" height="65.3" rx="1.6" fill="#0a0aa8"/>
<path d="M1106.3 747.5H1127.1M1144.4 747.5H1165.2M1182.5 747.5H1203.3M1220.6 747.5H1241.4M1258.7 747.5H1279.5M1296.8 747.5H1317.6M1334.9 747.5H1355.7M1373 747.5H1393.8M1411.1 747.5H1431.9M1096.6 924.1H1117.4M1134.7 924.1H1155.5M1172.8 924.1H1193.6M1210.9 924.1H1231.7M1249 924.1H1269.8M1287.1 924.1H1307.9M1325.2 924.1H1346M1363.3 924.1H1384.1M1401.4 924.1H1422.2M1090.5 750.1V770.9M1090.5 788.4V809.2M1090.5 826.7V847.5M1090.5 865V885.8M1090.5 903.3V924.1M1444 753.7V774.5M1444 792V812.8M1444 830.3V851.1M1444 868.6V889.4M1444 906.9V926.7" stroke="#000" stroke-width="5.2" fill="none"/>
<text font-family="'Liberation Serif', 'Times New Roman', serif" font-size="54" font-style="italic" fill="#000" transform="matrix(0.93 0 0 1.05 867.34 994.95)">6</text>
<line x1="772.9" y1="1111.5" x2="1444" y2="1111.5" stroke="#8a8a8a" stroke-width="2.1"/>
<rect x="800.8" y="1103.3" width="5.6" height="8.2" rx="1.6" fill="#14d8d8"/>
<rect x="841.1" y="1111.5" width="5.6" height="24.1" rx="1.6" fill="#0a0aa8"/>
<rect x="894.4" y="1111.5" width="5.6" height="6.3" rx="1.6" fill="#0a0aa8"/>
<rect x="1054.1" y="1094.3" width="5.6" height="17.2" rx="1.6" fill="#0a0aa8"/>
<rect x="1068" y="1111.5" width="5.6" height="6.3" rx="1.6" fill="#14d8d8"/>
<rect x="1108.7" y="1060.8" width="5.6" height="50.7" rx="1.6" fill="#0a0aa8"/>
<rect x="1120.1" y="1111.5" width="5.6" height="10.6" rx="1.6" fill="#ff2a12"/>
<rect x="1159.2" y="1111.5" width="5.6" height="24.6" rx="1.6" fill="#0a0aa8"/>
<rect x="1171.3" y="1098.5" width="5.6" height="13" rx="1.6" fill="#ff2a12"/>
<rect x="1222.3" y="1111.5" width="5.6" height="13.3" rx="1.6" fill="#ff2a12"/>
<rect x="1261.2" y="1083.6" width="5.6" height="27.9" rx="1.6" fill="#0a0aa8"/>
<rect x="1273.1" y="1100.2" width="5.6" height="11.3" rx="1.6" fill="#ff2a12"/>
<rect x="1312" y="1111.5" width="5.6" height="50" rx="1.6" fill="#0a0aa8"/>
<rect x="1323.9" y="1111.5" width="5.6" height="8" rx="1.6" fill="#ff2a12"/>
<rect x="1363.1" y="1046.8" width="5.6" height="64.7" rx="1.6" fill="#0a0aa8"/>
<rect x="1413.9" y="1111.5" width="5.6" height="69.3" rx="1.6" fill="#0a0aa8"/>
<path d="M1106.3 1021.7H1127.1M1144.4 1021.7H1165.2M1182.5 1021.7H1203.3M1220.6 1021.7H1241.4M1258.7 1021.7H1279.5M1296.8 1021.7H1317.6M1334.9 1021.7H1355.7M1373 1021.7H1393.8M1411.1 1021.7H1431.9M1096.6 1198.3H1117.4M1134.7 1198.3H1155.5M1172.8 1198.3H1193.6M1210.9 1198.3H1231.7M1249 1198.3H1269.8M1287.1 1198.3H1307.9M1325.2 1198.3H1346M1363.3 1198.3H1384.1M1401.4 1198.3H1422.2M1090.5 1024V1044.8M1090.5 1062.2V1083M1090.5 1100.4V1121.2M1090.5 1138.6V1159.4M1090.5 1176.8V1197.6M1444 1027.5V1048.3M1444 1065.8V1086.6M1444 1104.1V1124.9M1444 1142.4V1163.2M1444 1180.7V1200.9" stroke="#000" stroke-width="5.2" fill="none"/>
<text font-family="'Liberation Serif', 'Times New Roman', serif" font-size="54" font-style="italic" fill="#000" transform="matrix(1.05 0 0 1.02 1574.95 706.38)">5</text>
<line x1="1481.2" y1="833.8" x2="2143.5" y2="833.8" stroke="#6e6e6e" stroke-width="2.1"/>
<rect x="1508.9" y="828.4" width="5.6" height="5.4" rx="1.6" fill="#14d8d8"/>
<rect x="1762.5" y="833.8" width="5.6" height="45.2" rx="1.6" fill="#0a0aa8"/>
<rect x="1774.2" y="805.2" width="5.6" height="28.6" rx="1.6" fill="#ff2a12"/>
<rect x="1813" y="833.8" width="5.6" height="34.7" rx="1.6" fill="#0a0aa8"/>
<rect x="1825.2" y="833.8" width="5.6" height="12" rx="1.6" fill="#ff2a12"/>
<rect x="1863.8" y="765.7" width="5.6" height="68.1" rx="1.6" fill="#0a0aa8"/>
<rect x="1875.6" y="833.8" width="5.6" height="16.3" rx="1.6" fill="#ff2a12"/>
<rect x="1914.6" y="833.8" width="5.6" height="22.8" rx="1.6" fill="#0a0aa8"/>
<rect x="1926.7" y="807.2" width="5.6" height="26.6" rx="1.6" fill="#ff2a12"/>
<rect x="1965.6" y="833.8" width="5.6" height="48" rx="1.6" fill="#0a0aa8"/>
<rect x="1977.5" y="833.8" width="5.6" height="5.6" rx="1.6" fill="#ff2a12"/>
<rect x="2016.1" y="769.6" width="5.6" height="64.2" rx="1.6" fill="#0a0aa8"/>
<rect x="2027.9" y="833.8" width="5.6" height="20.9" rx="1.6" fill="#ff2a12"/>
<rect x="2067.1" y="833.8" width="5.6" height="7.6" rx="1.6" fill="#0a0aa8"/>
<rect x="2079" y="809.2" width="5.6" height="24.6" rx="1.6" fill="#ff2a12"/>
<rect x="2117.9" y="833.8" width="5.6" height="58.4" rx="1.6" fill="#0a0aa8"/>
<path d="M1766.7 746.5H1787.5M1804.9 746.5H1825.7M1843.1 746.5H1863.9M1881.3 746.5H1902.1M1919.5 746.5H1940.3M1957.7 746.5H1978.5M1995.9 746.5H2016.7M2034.1 746.5H2054.9M2072.3 746.5H2093.1M2110.5 746.5H2131.3M1765.7 922.9H1786.5M1803.9 922.9H1824.7M1842.1 922.9H1862.9M1880.3 922.9H1901.1M1918.5 922.9H1939.3M1956.7 922.9H1977.5M1994.9 922.9H2015.7M2033.1 922.9H2053.9M2071.3 922.9H2092.1M2109.5 922.9H2130.3M1751.3 748.8V769.6M1751.3 787.1V807.9M1751.3 825.4V846.2M1751.3 863.7V884.5M1751.3 902V922.8M2147.4 748.8V769.6M2147.4 787.1V807.9M2147.4 825.4V846.2M2147.4 863.7V884.5M2147.4 902V922.8" stroke="#000" stroke-width="5.2" fill="none"/>
<text font-family="'Liberation Serif', 'Times New Roman', serif" font-size="54" font-style="italic" fill="#000" transform="matrix(0.97 0 0 1.03 1575.06 995.17)">6</text>
<line x1="1481.2" y1="1103" x2="2143.5" y2="1103" stroke="#6e6e6e" stroke-width="2.1"/>
<rect x="1508.9" y="1096.3" width="5.6" height="6.7" rx="1.6" fill="#14d8d8"/>
<rect x="1548.7" y="1103" width="5.6" height="9.6" rx="1.6" fill="#0a0aa8"/>
<rect x="1708.2" y="1095.3" width="5.6" height="7.7" rx="1.6" fill="#0a0aa8"/>
<rect x="1722" y="1103" width="5.6" height="5.4" rx="1.6" fill="#14d8d8"/>
<rect x="1762.5" y="1051.8" width="5.6" height="51.2" rx="1.6" fill="#0a0aa8"/>
<rect x="1774.2" y="1103" width="5.6" height="20.6" rx="1.6" fill="#ff2a12"/>
<rect x="1825.2" y="1083" width="5.6" height="20" rx="1.6" fill="#ff2a12"/>
<rect x="1863.8" y="1103" width="5.6" height="46.3" rx="1.6" fill="#0a0aa8"/>
<rect x="1875.6" y="1103" width="5.6" height="9.7" rx="1.6" fill="#ff2a12"/>
<rect x="1914.6" y="1035.2" width="5.6" height="67.8" rx="1.6" fill="#0a0aa8"/>
<rect x="1926.7" y="1103" width="5.6" height="4.4" rx="1.6" fill="#ff2a12"/>
<rect x="1965.6" y="1103" width="5.6" height="55.2" rx="1.6" fill="#0a0aa8"/>
<rect x="1977.5" y="1086" width="5.6" height="17" rx="1.6" fill="#ff2a12"/>
<rect x="2016.1" y="1090" width="5.6" height="13" rx="1.6" fill="#0a0aa8"/>
<rect x="2027.9" y="1103" width="5.6" height="21.2" rx="1.6" fill="#ff2a12"/>
<rect x="2067.1" y="1069.6" width="5.6" height="33.4" rx="1.6" fill="#0a0aa8"/>
<rect x="2079" y="1089.4" width="5.6" height="13.6" rx="1.6" fill="#ff2a12"/>
<rect x="2117.9" y="1103" width="5.6" height="65.1" rx="1.6" fill="#0a0aa8"/>
<path d="M1766.7 1014.2H1787.5M1804.9 1014.2H1825.7M1843.1 1014.2H1863.9M1881.3 1014.2H1902.1M1919.5 1014.2H1940.3M1957.7 1014.2H1978.5M1995.9 1014.2H2016.7M2034.1 1014.2H2054.9M2072.3 1014.2H2093.1M2110.5 1014.2H2131.3M1765.7 1190.9H1786.5M1803.9 1190.9H1824.7M1842.1 1190.9H1862.9M1880.3 1190.9H1901.1M1918.5 1190.9H1939.3M1956.7 1190.9H1977.5M1994.9 1190.9H2015.7M2033.1 1190.9H2053.9M2071.3 1190.9H2092.1M2109.5 1190.9H2130.3M1751.3 1015.8V1036.6M1751.3 1054.2V1075M1751.3 1092.6V1113.4M1751.3 1131V1151.8M1751.3 1169.4V1190.2M2147.4 1015.8V1036.6M2147.4 1054.2V1075M2147.4 1092.6V1113.4M2147.4 1131V1151.8M2147.4 1169.4V1190.2" stroke="#000" stroke-width="5.2" fill="none"/>
<text font-family="'Liberation Serif', 'Times New Roman', serif" font-size="54" font-style="italic" fill="#000" transform="matrix(0.95 0 0 1.01 1574.65 1260.8)">7</text>
<line x1="1481.4" y1="1377.6" x2="2143.5" y2="1377.6" stroke="#6e6e6e" stroke-width="2.1"/>
<rect x="1509.3" y="1368.1" width="5.6" height="9.5" rx="1.6" fill="#14d8d8"/>
<rect x="1549.4" y="1377.6" width="5.6" height="27.9" rx="1.6" fill="#0a0aa8"/>
<rect x="1602.9" y="1377.6" width="5.6" height="11.2" rx="1.6" fill="#0a0aa8"/>
<rect x="1656.7" y="1377.6" width="5.6" height="7.9" rx="1.6" fill="#0a0aa8"/>
<rect x="1710.2" y="1377.6" width="5.6" height="18.6" rx="1.6" fill="#0a0aa8"/>
<rect x="1723.9" y="1370.8" width="5.6" height="6.8" rx="1.6" fill="#14d8d8"/>
<rect x="1763.9" y="1377.6" width="5.6" height="48.7" rx="1.6" fill="#0a0aa8"/>
<rect x="1775.8" y="1368" width="5.6" height="9.6" rx="1.6" fill="#ff2a12"/>
<rect x="1815.3" y="1351.1" width="5.6" height="26.5" rx="1.6" fill="#0a0aa8"/>
<rect x="1827.2" y="1377.6" width="5.6" height="10.5" rx="1.6" fill="#ff2a12"/>
<rect x="1878.2" y="1366" width="5.6" height="11.6" rx="1.6" fill="#ff2a12"/>
<rect x="1917.2" y="1377.6" width="5.6" height="18" rx="1.6" fill="#0a0aa8"/>
<rect x="1929.1" y="1377.6" width="5.6" height="10.5" rx="1.6" fill="#ff2a12"/>
<rect x="1968.2" y="1337.9" width="5.6" height="39.7" rx="1.6" fill="#0a0aa8"/>
<rect x="1980.5" y="1368.4" width="5.6" height="9.2" rx="1.6" fill="#ff2a12"/>
<rect x="2019.6" y="1377.6" width="5.6" height="55.6" rx="1.6" fill="#0a0aa8"/>
<rect x="2031.5" y="1377.6" width="5.6" height="5.2" rx="1.6" fill="#ff2a12"/>
<rect x="2071.1" y="1310.6" width="5.6" height="67" rx="1.6" fill="#0a0aa8"/>
<rect x="2121.9" y="1377.6" width="5.6" height="68.5" rx="1.6" fill="#0a0aa8"/>
<path d="M1766.7 1289.2H1787.5M1804.9 1289.2H1825.7M1843.1 1289.2H1863.9M1881.3 1289.2H1902.1M1919.5 1289.2H1940.3M1957.7 1289.2H1978.5M1995.9 1289.2H2016.7M2034.1 1289.2H2054.9M2072.3 1289.2H2093.1M2110.5 1289.2H2131.3M1765.7 1465.3H1786.5M1803.9 1465.3H1824.7M1842.1 1465.3H1862.9M1880.3 1465.3H1901.1M1918.5 1465.3H1939.3M1956.7 1465.3H1977.5M1994.9 1465.3H2015.7M2033.1 1465.3H2053.9M2071.3 1465.3H2092.1M2109.5 1465.3H2130.3M1751.3 1290.8V1311.6M1751.3 1329.1V1349.9M1751.3 1367.4V1388.2M1751.3 1405.7V1426.5M1751.3 1444V1464.8M2147.4 1290.8V1311.6M2147.4 1329.1V1349.9M2147.4 1367.4V1388.2M2147.4 1405.7V1426.5M2147.4 1444V1464.8" stroke="#000" stroke-width="5.2" fill="none"/>
</svg></body></html>
